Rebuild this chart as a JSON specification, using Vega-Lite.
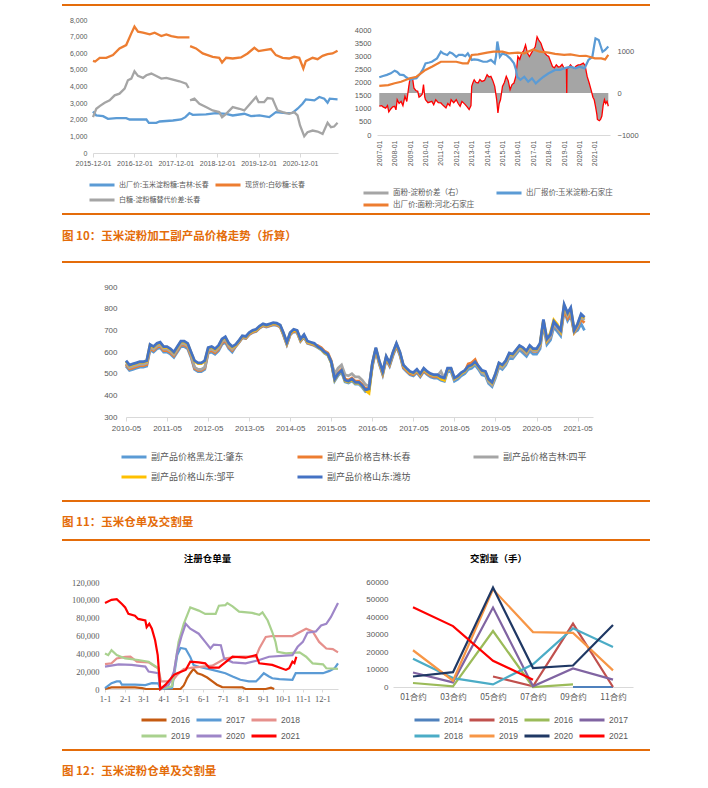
{
"$schema": "https://vega.github.io/schema/vega-lite/v6.json",
"background": "white",
"padding": {"left": 62, "top": 4, "right": 0, "bottom": 0},
"spacing": 0,
"bounds": "full",
"resolve": {"scale": {"color": "independent"}},
"vconcat": [
{"hconcat": [
{"width": 588, "height": 2, "view": {"fill": "#E46C0A", "stroke": null}, "data": {"values": []}, "mark": "point"},
{"width": 1, "height": 10, "data": {"values": []}, "mark": "point"}
], "spacing": 0, "bounds": "flush"},

{"hconcat": [
{"width": 31, "height": 199, "data": {"values": []}, "mark": "point"},
{
"width": 245, "height": 139,
"data": {"values": [
{"s":"出厂价:玉米淀粉糖:吉林:长春","g":1,"d":"2015-12-01","v":2500},
{"s":"出厂价:玉米淀粉糖:吉林:长春","g":1,"d":"2015-12-30","v":2258},
{"s":"出厂价:玉米淀粉糖:吉林:长春","g":1,"d":"2016-02-28","v":2218},
{"s":"出厂价:玉米淀粉糖:吉林:长春","g":1,"d":"2016-04-11","v":2056},
{"s":"出厂价:玉米淀粉糖:吉林:长春","g":1,"d":"2016-06-24","v":2097},
{"s":"出厂价:玉米淀粉糖:吉林:长春","g":1,"d":"2016-09-19","v":2097},
{"s":"出厂价:玉米淀粉糖:吉林:长春","g":1,"d":"2016-10-19","v":2016},
{"s":"出厂价:玉米淀粉糖:吉林:长春","g":1,"d":"2017-03-16","v":2016},
{"s":"出厂价:玉米淀粉糖:吉林:长春","g":1,"d":"2017-04-07","v":1815},
{"s":"出厂价:玉米淀粉糖:吉林:长春","g":1,"d":"2017-06-12","v":1815},
{"s":"出厂价:玉米淀粉糖:吉林:长春","g":1,"d":"2017-07-11","v":1895},
{"s":"出厂价:玉米淀粉糖:吉林:长春","g":1,"d":"2017-11-05","v":1956},
{"s":"出厂价:玉米淀粉糖:吉林:长春","g":1,"d":"2018-01-17","v":2016},
{"s":"出厂价:玉米淀粉糖:吉林:长春","g":1,"d":"2018-02-23","v":2157},
{"s":"出厂价:玉米淀粉糖:吉林:长春","g":1,"d":"2018-03-31","v":2400},
{"s":"出厂价:玉米淀粉糖:吉林:长春","g":1,"d":"2018-04-29","v":2298},
{"s":"出厂价:玉米淀粉糖:吉林:长春","g":1,"d":"2018-08-24","v":2319},
{"s":"出厂价:玉米淀粉糖:吉林:长春","g":1,"d":"2018-11-20","v":2400},
{"s":"出厂价:玉米淀粉糖:吉林:长春","g":1,"d":"2019-02-18","v":2359},
{"s":"出厂价:玉米淀粉糖:吉林:长春","g":1,"d":"2019-04-17","v":2258},
{"s":"出厂价:玉米淀粉糖:吉林:长春","g":1,"d":"2019-07-28","v":2359},
{"s":"出厂价:玉米淀粉糖:吉林:长春","g":1,"d":"2019-09-25","v":2218},
{"s":"出厂价:玉米淀粉糖:吉林:长春","g":1,"d":"2019-12-08","v":2258},
{"s":"出厂价:玉米淀粉糖:吉林:长春","g":1,"d":"2020-03-05","v":2157},
{"s":"出厂价:玉米淀粉糖:吉林:长春","g":1,"d":"2020-05-02","v":2460},
{"s":"出厂价:玉米淀粉糖:吉林:长春","g":1,"d":"2020-07-28","v":2400},
{"s":"出厂价:玉米淀粉糖:吉林:长春","g":1,"d":"2020-09-25","v":2419},
{"s":"出厂价:玉米淀粉糖:吉林:长春","g":1,"d":"2020-11-09","v":2661},
{"s":"出厂价:玉米淀粉糖:吉林:长春","g":1,"d":"2020-12-23","v":2964},
{"s":"出厂价:玉米淀粉糖:吉林:长春","g":1,"d":"2021-01-21","v":3226},
{"s":"出厂价:玉米淀粉糖:吉林:长春","g":1,"d":"2021-04-07","v":3165},
{"s":"出厂价:玉米淀粉糖:吉林:长春","g":1,"d":"2021-05-20","v":3367},
{"s":"出厂价:玉米淀粉糖:吉林:长春","g":1,"d":"2021-07-03","v":3266},
{"s":"出厂价:玉米淀粉糖:吉林:长春","g":1,"d":"2021-08-01","v":3024},
{"s":"出厂价:玉米淀粉糖:吉林:长春","g":1,"d":"2021-08-20","v":3266},
{"s":"出厂价:玉米淀粉糖:吉林:长春","g":1,"d":"2021-10-28","v":3226},
{"s":"现货价:白砂糖:长春","g":1,"d":"2015-12-01","v":5544},
{"s":"现货价:白砂糖:长春","g":1,"d":"2015-12-20","v":5500},
{"s":"现货价:白砂糖:长春","g":1,"d":"2016-01-29","v":5726},
{"s":"现货价:白砂糖:长春","g":1,"d":"2016-03-27","v":5726},
{"s":"现货价:白砂糖:长春","g":1,"d":"2016-05-25","v":5887},
{"s":"现货价:白砂糖:长春","g":1,"d":"2016-07-22","v":6290},
{"s":"现货价:白砂糖:长春","g":1,"d":"2016-09-19","v":6492},
{"s":"现货价:白砂糖:长春","g":1,"d":"2016-11-03","v":7197},
{"s":"现货价:白砂糖:长春","g":1,"d":"2016-12-01","v":7600},
{"s":"现货价:白砂糖:长春","g":1,"d":"2017-01-01","v":7298},
{"s":"现货价:白砂糖:长春","g":1,"d":"2017-02-14","v":7238},
{"s":"现货价:白砂糖:长春","g":1,"d":"2017-04-15","v":7137},
{"s":"现货价:白砂糖:长春","g":1,"d":"2017-05-28","v":7238},
{"s":"现货价:白砂糖:长春","g":1,"d":"2017-07-26","v":7036},
{"s":"现货价:白砂糖:长春","g":1,"d":"2017-09-08","v":7137},
{"s":"现货价:白砂糖:长春","g":1,"d":"2017-10-22","v":7036},
{"s":"现货价:白砂糖:长春","g":1,"d":"2017-12-19","v":6956},
{"s":"现货价:白砂糖:长春","g":1,"d":"2018-03-31","v":6956},
{"s":"现货价:白砂糖:长春","g":2,"d":"2018-04-06","v":6431},
{"s":"现货价:白砂糖:长春","g":2,"d":"2018-05-28","v":6290},
{"s":"现货价:白砂糖:长春","g":2,"d":"2018-07-26","v":5988},
{"s":"现货价:白砂糖:长春","g":2,"d":"2018-09-08","v":5887},
{"s":"现货价:白砂糖:长春","g":2,"d":"2018-10-22","v":5786},
{"s":"现货价:白砂糖:长春","g":2,"d":"2018-12-19","v":5726},
{"s":"现货价:白砂糖:长春","g":2,"d":"2019-01-13","v":5444},
{"s":"现货价:白砂糖:长春","g":2,"d":"2019-02-18","v":5726},
{"s":"现货价:白砂糖:长春","g":2,"d":"2019-04-17","v":5685},
{"s":"现货价:白砂糖:长春","g":2,"d":"2019-06-29","v":5746},
{"s":"现货价:白砂糖:长春","g":2,"d":"2019-08-26","v":5988},
{"s":"现货价:白砂糖:长春","g":2,"d":"2019-10-25","v":6331},
{"s":"现货价:白砂糖:长春","g":2,"d":"2019-12-01","v":6129},
{"s":"现货价:白砂糖:长春","g":2,"d":"2020-01-20","v":6190},
{"s":"现货价:白砂糖:长春","g":2,"d":"2020-03-19","v":6250},
{"s":"现货价:白砂糖:长春","g":2,"d":"2020-05-02","v":5887},
{"s":"现货价:白砂糖:长春","g":2,"d":"2020-06-30","v":5726},
{"s":"现货价:白砂糖:长春","g":2,"d":"2020-08-27","v":5685},
{"s":"现货价:白砂糖:长春","g":2,"d":"2020-10-10","v":5786},
{"s":"现货价:白砂糖:长春","g":2,"d":"2020-11-24","v":5726},
{"s":"现货价:白砂糖:长春","g":2,"d":"2020-12-30","v":5081},
{"s":"现货价:白砂糖:长春","g":2,"d":"2021-01-21","v":5524},
{"s":"现货价:白砂糖:长春","g":2,"d":"2021-03-22","v":5726},
{"s":"现货价:白砂糖:长春","g":2,"d":"2021-05-05","v":5645},
{"s":"现货价:白砂糖:长春","g":2,"d":"2021-06-18","v":5847},
{"s":"现货价:白砂糖:长春","g":2,"d":"2021-08-01","v":5948},
{"s":"现货价:白砂糖:长春","g":2,"d":"2021-09-14","v":5988},
{"s":"现货价:白砂糖:长春","g":2,"d":"2021-10-28","v":6149},
{"s":"白糖-淀粉糖替代价差:长春","g":1,"d":"2015-12-01","v":2157},
{"s":"白糖-淀粉糖替代价差:长春","g":1,"d":"2015-12-30","v":2661},
{"s":"白糖-淀粉糖替代价差:长春","g":1,"d":"2016-01-29","v":2823},
{"s":"白糖-淀粉糖替代价差:长春","g":1,"d":"2016-03-13","v":3024},
{"s":"白糖-淀粉糖替代价差:长春","g":1,"d":"2016-04-26","v":3165},
{"s":"白糖-淀粉糖替代价差:长春","g":1,"d":"2016-06-09","v":3468},
{"s":"白糖-淀粉糖替代价差:长春","g":1,"d":"2016-07-22","v":3569},
{"s":"白糖-淀粉糖替代价差:长春","g":1,"d":"2016-09-05","v":3871},
{"s":"白糖-淀粉糖替代价差:长春","g":1,"d":"2016-10-04","v":4375},
{"s":"白糖-淀粉糖替代价差:长春","g":1,"d":"2016-11-03","v":4476},
{"s":"白糖-淀粉糖替代价差:长春","g":1,"d":"2016-12-01","v":4919},
{"s":"白糖-淀粉糖替代价差:长春","g":1,"d":"2017-01-01","v":4637},
{"s":"白糖-淀粉糖替代价差:长春","g":1,"d":"2017-02-14","v":4516},
{"s":"白糖-淀粉糖替代价差:长春","g":1,"d":"2017-03-16","v":4677},
{"s":"白糖-淀粉糖替代价差:长春","g":1,"d":"2017-04-29","v":4778},
{"s":"白糖-淀粉糖替代价差:长春","g":1,"d":"2017-06-12","v":4637},
{"s":"白糖-淀粉糖替代价差:长春","g":1,"d":"2017-07-26","v":4476},
{"s":"白糖-淀粉糖替代价差:长春","g":1,"d":"2017-09-08","v":4516},
{"s":"白糖-淀粉糖替代价差:长春","g":1,"d":"2017-11-05","v":4415},
{"s":"白糖-淀粉糖替代价差:长春","g":1,"d":"2018-01-02","v":4315},
{"s":"白糖-淀粉糖替代价差:长春","g":1,"d":"2018-03-02","v":4173},
{"s":"白糖-淀粉糖替代价差:长春","g":1,"d":"2018-03-24","v":3911},
{"s":"白糖-淀粉糖替代价差:长春","g":2,"d":"2018-04-06","v":3165},
{"s":"白糖-淀粉糖替代价差:长春","g":2,"d":"2018-05-14","v":3266},
{"s":"白糖-淀粉糖替代价差:长春","g":2,"d":"2018-06-27","v":2964},
{"s":"白糖-淀粉糖替代价差:长春","g":2,"d":"2018-08-24","v":2762},
{"s":"白糖-淀粉糖替代价差:长春","g":2,"d":"2018-10-22","v":2560},
{"s":"白糖-淀粉糖替代价差:长春","g":2,"d":"2018-12-19","v":2460},
{"s":"白糖-淀粉糖替代价差:长春","g":2,"d":"2019-01-13","v":2157},
{"s":"白糖-淀粉糖替代价差:长春","g":2,"d":"2019-02-18","v":2359},
{"s":"白糖-淀粉糖替代价差:长春","g":2,"d":"2019-04-17","v":2762},
{"s":"白糖-淀粉糖替代价差:长春","g":2,"d":"2019-06-15","v":2661},
{"s":"白糖-淀粉糖替代价差:长春","g":2,"d":"2019-07-28","v":2560},
{"s":"白糖-淀粉糖替代价差:长春","g":2,"d":"2019-09-10","v":2903},
{"s":"白糖-淀粉糖替代价差:长春","g":2,"d":"2019-11-09","v":3367},
{"s":"白糖-淀粉糖替代价差:长春","g":2,"d":"2019-12-01","v":3065},
{"s":"白糖-淀粉糖替代价差:长春","g":2,"d":"2020-01-20","v":3065},
{"s":"白糖-淀粉糖替代价差:长春","g":2,"d":"2020-02-18","v":3306},
{"s":"白糖-淀粉糖替代价差:长春","g":2,"d":"2020-04-02","v":3266},
{"s":"白糖-淀粉糖替代价差:长春","g":2,"d":"2020-05-16","v":2560},
{"s":"白糖-淀粉糖替代价差:长春","g":2,"d":"2020-06-30","v":2460},
{"s":"白糖-淀粉糖替代价差:长春","g":2,"d":"2020-08-27","v":2359},
{"s":"白糖-淀粉糖替代价差:长春","g":2,"d":"2020-10-10","v":2460},
{"s":"白糖-淀粉糖替代价差:长春","g":2,"d":"2020-11-09","v":2258},
{"s":"白糖-淀粉糖替代价差:长春","g":2,"d":"2020-12-01","v":1653},
{"s":"白糖-淀粉糖替代价差:长春","g":2,"d":"2021-01-07","v":1008},
{"s":"白糖-淀粉糖替代价差:长春","g":2,"d":"2021-02-05","v":1250},
{"s":"白糖-淀粉糖替代价差:长春","g":2,"d":"2021-03-22","v":1351},
{"s":"白糖-淀粉糖替代价差:长春","g":2,"d":"2021-05-05","v":1290},
{"s":"白糖-淀粉糖替代价差:长春","g":2,"d":"2021-06-18","v":1149},
{"s":"白糖-淀粉糖替代价差:长春","g":2,"d":"2021-08-01","v":1815},
{"s":"白糖-淀粉糖替代价差:长春","g":2,"d":"2021-08-31","v":1552},
{"s":"白糖-淀粉糖替代价差:长春","g":2,"d":"2021-09-28","v":1593},
{"s":"白糖-淀粉糖替代价差:长春","g":2,"d":"2021-10-28","v":1815}
]},
"mark": {"type": "line", "strokeWidth": 2.3},
"encoding": {
"x": {"field": "d", "type": "temporal",
"scale": {"domain": [{"year": 2015, "month": 12, "date": 1}, {"year": 2021, "month": 11, "date": 1}]},
"axis": {"title": null, "format": "%Y-%m-%d", "labelAngle": 0, "labelFontSize": 7, "labelFlush": false, "labelOverlap": false, "grid": false, "domainColor": "#D9D9D9", "tickColor": "#D9D9D9", "tickSize": 4, "labelPadding": 2,
"values": [{"year": 2015, "month": 12, "date": 1}, {"year": 2016, "month": 12, "date": 1}, {"year": 2017, "month": 12, "date": 1}, {"year": 2018, "month": 12, "date": 1}, {"year": 2019, "month": 12, "date": 1}, {"year": 2020, "month": 12, "date": 1}]}},
"y": {"field": "v", "type": "quantitative", "scale": {"domain": [0, 8361], "nice": false},
"axis": {"title": null, "values": [0, 1000, 2000, 3000, 4000, 5000, 6000, 7000, 8000], "format": ",d", "domain": false, "ticks": false, "grid": false, "labelFontSize": 7, "labelPadding": 6}},
"color": {"field": "s", "type": "nominal",
"scale": {"domain": ["出厂价:玉米淀粉糖:吉林:长春", "现货价:白砂糖:长春", "白糖-淀粉糖替代价差:长春"], "range": ["#5B9BD5", "#ED7D31", "#A5A5A5"]},
"legend": {"title": null, "orient": "none", "direction": "horizontal", "legendX": -5, "legendY": 165, "columns": 2, "symbolType": "M-2.78,0H2.78", "symbolSize": 81, "symbolStrokeWidth": 3, "symbolOffset": 8, "labelOffset": 11, "labelFontSize": 7, "columnPadding": 0, "rowPadding": 3, "labelLimit": 300}},
"detail": {"field": "g"}
}
},
{"width": 39, "height": 1, "data": {"values": []}, "mark": "point"},
{
"width": 233, "height": 121,
"data": {"values": [
{"s":"面粉-淀粉价差（右）","d":"2007-01-01","v":-315},
{"s":"面粉-淀粉价差（右）","d":"2007-03-01","v":-300},
{"s":"面粉-淀粉价差（右）","d":"2007-04-01","v":-330},
{"s":"面粉-淀粉价差（右）","d":"2007-06-01","v":-360},
{"s":"面粉-淀粉价差（右）","d":"2007-07-15","v":-300},
{"s":"面粉-淀粉价差（右）","d":"2007-08-15","v":-450},
{"s":"面粉-淀粉价差（右）","d":"2007-10-01","v":-380},
{"s":"面粉-淀粉价差（右）","d":"2007-11-15","v":-330},
{"s":"面粉-淀粉价差（右）","d":"2008-01-01","v":-316},
{"s":"面粉-淀粉价差（右）","d":"2008-02-01","v":-400},
{"s":"面粉-淀粉价差（右）","d":"2008-03-01","v":-160},
{"s":"面粉-淀粉价差（右）","d":"2008-04-15","v":-250},
{"s":"面粉-淀粉价差（右）","d":"2008-06-01","v":-200},
{"s":"面粉-淀粉价差（右）","d":"2008-07-15","v":-300},
{"s":"面粉-淀粉价差（右）","d":"2008-09-01","v":-80},
{"s":"面粉-淀粉价差（右）","d":"2008-10-15","v":-200},
{"s":"面粉-淀粉价差（右）","d":"2008-12-01","v":160},
{"s":"面粉-淀粉价差（右）","d":"2009-01-01","v":355},
{"s":"面粉-淀粉价差（右）","d":"2009-03-01","v":350},
{"s":"面粉-淀粉价差（右）","d":"2009-04-01","v":120},
{"s":"面粉-淀粉价差（右）","d":"2009-05-15","v":60},
{"s":"面粉-淀粉价差（右）","d":"2009-07-01","v":40},
{"s":"面粉-淀粉价差（右）","d":"2009-08-01","v":-100},
{"s":"面粉-淀粉价差（右）","d":"2009-09-01","v":-80},
{"s":"面粉-淀粉价差（右）","d":"2009-10-15","v":-30},
{"s":"面粉-淀粉价差（右）","d":"2009-11-15","v":200},
{"s":"面粉-淀粉价差（右）","d":"2009-12-15","v":-100},
{"s":"面粉-淀粉价差（右）","d":"2010-01-01","v":-160},
{"s":"面粉-淀粉价差（右）","d":"2010-03-01","v":-230},
{"s":"面粉-淀粉价差（右）","d":"2010-06-01","v":-200},
{"s":"面粉-淀粉价差（右）","d":"2010-07-15","v":-280},
{"s":"面粉-淀粉价差（右）","d":"2010-09-01","v":-160},
{"s":"面粉-淀粉价差（右）","d":"2010-11-01","v":-230},
{"s":"面粉-淀粉价差（右）","d":"2011-01-01","v":-237},
{"s":"面粉-淀粉价差（右）","d":"2011-03-01","v":-300},
{"s":"面粉-淀粉价差（右）","d":"2011-05-01","v":-355},
{"s":"面粉-淀粉价差（右）","d":"2011-06-15","v":-250},
{"s":"面粉-淀粉价差（右）","d":"2011-08-01","v":-300},
{"s":"面粉-淀粉价差（右）","d":"2011-09-01","v":-160},
{"s":"面粉-淀粉价差（右）","d":"2011-11-01","v":-230},
{"s":"面粉-淀粉价差（右）","d":"2012-01-01","v":-160},
{"s":"面粉-淀粉价差（右）","d":"2012-02-15","v":-250},
{"s":"面粉-淀粉价差（右）","d":"2012-04-01","v":-316},
{"s":"面粉-淀粉价差（右）","d":"2012-05-15","v":-200},
{"s":"面粉-淀粉价差（右）","d":"2012-08-01","v":-276},
{"s":"面粉-淀粉价差（右）","d":"2012-09-15","v":-330},
{"s":"面粉-淀粉价差（右）","d":"2012-11-01","v":-395},
{"s":"面粉-淀粉价差（右）","d":"2012-12-15","v":-300},
{"s":"面粉-淀粉价差（右）","d":"2013-01-01","v":158},
{"s":"面粉-淀粉价差（右）","d":"2013-02-01","v":250},
{"s":"面粉-淀粉价差（右）","d":"2013-03-01","v":316},
{"s":"面粉-淀粉价差（右）","d":"2013-04-15","v":250},
{"s":"面粉-淀粉价差（右）","d":"2013-06-01","v":237},
{"s":"面粉-淀粉价差（右）","d":"2013-07-15","v":320},
{"s":"面粉-淀粉价差（右）","d":"2013-09-01","v":276},
{"s":"面粉-淀粉价差（右）","d":"2013-11-01","v":300},
{"s":"面粉-淀粉价差（右）","d":"2014-01-01","v":434},
{"s":"面粉-淀粉价差（右）","d":"2014-02-15","v":380},
{"s":"面粉-淀粉价差（右）","d":"2014-04-01","v":395},
{"s":"面粉-淀粉价差（右）","d":"2014-05-15","v":300},
{"s":"面粉-淀粉价差（右）","d":"2014-07-01","v":158},
{"s":"面粉-淀粉价差（右）","d":"2014-08-15","v":-150},
{"s":"面粉-淀粉价差（右）","d":"2014-09-15","v":-474},
{"s":"面粉-淀粉价差（右）","d":"2014-10-15","v":-250},
{"s":"面粉-淀粉价差（右）","d":"2014-11-15","v":-160},
{"s":"面粉-淀粉价差（右）","d":"2015-01-01","v":158},
{"s":"面粉-淀粉价差（右）","d":"2015-02-15","v":250},
{"s":"面粉-淀粉价差（右）","d":"2015-04-01","v":395},
{"s":"面粉-淀粉价差（右）","d":"2015-05-15","v":300},
{"s":"面粉-淀粉价差（右）","d":"2015-07-01","v":80},
{"s":"面粉-淀粉价差（右）","d":"2015-08-15","v":200},
{"s":"面粉-淀粉价差（右）","d":"2015-10-01","v":237},
{"s":"面粉-淀粉价差（右）","d":"2015-11-15","v":400},
{"s":"面粉-淀粉价差（右）","d":"2016-01-01","v":870},
{"s":"面粉-淀粉价差（右）","d":"2016-02-15","v":800},
{"s":"面粉-淀粉价差（右）","d":"2016-04-01","v":950},
{"s":"面粉-淀粉价差（右）","d":"2016-05-15","v":1000},
{"s":"面粉-淀粉价差（右）","d":"2016-07-01","v":1145},
{"s":"面粉-淀粉价差（右）","d":"2016-08-15","v":950},
{"s":"面粉-淀粉价差（右）","d":"2016-10-01","v":870},
{"s":"面粉-淀粉价差（右）","d":"2016-11-15","v":950},
{"s":"面粉-淀粉价差（右）","d":"2017-01-01","v":1030},
{"s":"面粉-淀粉价差（右）","d":"2017-02-15","v":1100},
{"s":"面粉-淀粉价差（右）","d":"2017-04-01","v":1340},
{"s":"面粉-淀粉价差（右）","d":"2017-05-15","v":1250},
{"s":"面粉-淀粉价差（右）","d":"2017-07-01","v":1185},
{"s":"面粉-淀粉价差（右）","d":"2017-08-15","v":1050},
{"s":"面粉-淀粉价差（右）","d":"2017-10-01","v":950},
{"s":"面粉-淀粉价差（右）","d":"2017-11-15","v":900},
{"s":"面粉-淀粉价差（右）","d":"2018-01-01","v":870},
{"s":"面粉-淀粉价差（右）","d":"2018-02-15","v":750},
{"s":"面粉-淀粉价差（右）","d":"2018-04-01","v":630},
{"s":"面粉-淀粉价差（右）","d":"2018-05-15","v":600},
{"s":"面粉-淀粉价差（右）","d":"2018-07-01","v":670},
{"s":"面粉-淀粉价差（右）","d":"2018-08-15","v":620},
{"s":"面粉-淀粉价差（右）","d":"2018-10-01","v":630},
{"s":"面粉-淀粉价差（右）","d":"2018-11-15","v":680},
{"s":"面粉-淀粉价差（右）","d":"2019-01-01","v":590},
{"s":"面粉-淀粉价差（右）","d":"2019-02-25","v":590},
{"s":"面粉-淀粉价差（右）","d":"2019-03-05","v":0},
{"s":"面粉-淀粉价差（右）","d":"2019-03-12","v":590},
{"s":"面粉-淀粉价差（右）","d":"2019-04-15","v":600},
{"s":"面粉-淀粉价差（右）","d":"2019-06-01","v":670},
{"s":"面粉-淀粉价差（右）","d":"2019-07-15","v":620},
{"s":"面粉-淀粉价差（右）","d":"2019-09-01","v":590},
{"s":"面粉-淀粉价差（右）","d":"2019-10-15","v":640},
{"s":"面粉-淀粉价差（右）","d":"2019-12-01","v":670},
{"s":"面粉-淀粉价差（右）","d":"2020-01-15","v":670},
{"s":"面粉-淀粉价差（右）","d":"2020-04-01","v":710},
{"s":"面粉-淀粉价差（右）","d":"2020-05-15","v":650},
{"s":"面粉-淀粉价差（右）","d":"2020-07-01","v":395},
{"s":"面粉-淀粉价差（右）","d":"2020-08-15","v":250},
{"s":"面粉-淀粉价差（右）","d":"2020-10-01","v":80},
{"s":"面粉-淀粉价差（右）","d":"2020-11-15","v":-100},
{"s":"面粉-淀粉价差（右）","d":"2020-12-15","v":-160},
{"s":"面粉-淀粉价差（右）","d":"2021-01-15","v":-316},
{"s":"面粉-淀粉价差（右）","d":"2021-02-15","v":-500},
{"s":"面粉-淀粉价差（右）","d":"2021-03-01","v":-630},
{"s":"面粉-淀粉价差（右）","d":"2021-04-15","v":-660},
{"s":"面粉-淀粉价差（右）","d":"2021-05-15","v":-630},
{"s":"面粉-淀粉价差（右）","d":"2021-06-15","v":-550},
{"s":"面粉-淀粉价差（右）","d":"2021-07-15","v":-300},
{"s":"面粉-淀粉价差（右）","d":"2021-08-15","v":-160},
{"s":"面粉-淀粉价差（右）","d":"2021-09-15","v":-250},
{"s":"面粉-淀粉价差（右）","d":"2021-10-15","v":-200},
{"s":"面粉-淀粉价差（右）","d":"2021-11-15","v":-316},
{"s":"出厂报价:玉米淀粉:石家庄","d":"2007-01-01","v":2200},
{"s":"出厂报价:玉米淀粉:石家庄","d":"2007-04-01","v":2250},
{"s":"出厂报价:玉米淀粉:石家庄","d":"2007-07-01","v":2290},
{"s":"出厂报价:玉米淀粉:石家庄","d":"2007-10-01","v":2350},
{"s":"出厂报价:玉米淀粉:石家庄","d":"2008-01-01","v":2450},
{"s":"出厂报价:玉米淀粉:石家庄","d":"2008-03-01","v":2400},
{"s":"出厂报价:玉米淀粉:石家庄","d":"2008-05-01","v":2300},
{"s":"出厂报价:玉米淀粉:石家庄","d":"2008-08-01","v":2280},
{"s":"出厂报价:玉米淀粉:石家庄","d":"2008-10-01","v":2200},
{"s":"出厂报价:玉米淀粉:石家庄","d":"2009-01-01","v":2100},
{"s":"出厂报价:玉米淀粉:石家庄","d":"2009-04-01","v":2150},
{"s":"出厂报价:玉米淀粉:石家庄","d":"2009-06-01","v":2160},
{"s":"出厂报价:玉米淀粉:石家庄","d":"2009-09-01","v":2350},
{"s":"出厂报价:玉米淀粉:石家庄","d":"2009-11-01","v":2500},
{"s":"出厂报价:玉米淀粉:石家庄","d":"2010-01-01","v":2730},
{"s":"出厂报价:玉米淀粉:石家庄","d":"2010-04-01","v":2760},
{"s":"出厂报价:玉米淀粉:石家庄","d":"2010-06-01","v":2790},
{"s":"出厂报价:玉米淀粉:石家庄","d":"2010-10-01","v":2920},
{"s":"出厂报价:玉米淀粉:石家庄","d":"2011-01-01","v":3175},
{"s":"出厂报价:玉米淀粉:石家庄","d":"2011-03-01","v":3100},
{"s":"出厂报价:玉米淀粉:石家庄","d":"2011-06-01","v":3050},
{"s":"出厂报价:玉米淀粉:石家庄","d":"2011-08-01","v":3150},
{"s":"出厂报价:玉米淀粉:石家庄","d":"2011-10-01","v":3110},
{"s":"出厂报价:玉米淀粉:石家庄","d":"2012-01-01","v":2980},
{"s":"出厂报价:玉米淀粉:石家庄","d":"2012-03-01","v":3050},
{"s":"出厂报价:玉米淀粉:石家庄","d":"2012-06-01","v":3050},
{"s":"出厂报价:玉米淀粉:石家庄","d":"2012-08-01","v":3000},
{"s":"出厂报价:玉米淀粉:石家庄","d":"2012-10-01","v":3110},
{"s":"出厂报价:玉米淀粉:石家庄","d":"2013-01-01","v":2860},
{"s":"出厂报价:玉米淀粉:石家庄","d":"2013-03-01","v":2880},
{"s":"出厂报价:玉米淀粉:石家庄","d":"2013-06-01","v":2860},
{"s":"出厂报价:玉米淀粉:石家庄","d":"2013-10-01","v":2790},
{"s":"出厂报价:玉米淀粉:石家庄","d":"2014-01-01","v":2790},
{"s":"出厂报价:玉米淀粉:石家庄","d":"2014-04-01","v":2860},
{"s":"出厂报价:玉米淀粉:石家庄","d":"2014-07-01","v":2730},
{"s":"出厂报价:玉米淀粉:石家庄","d":"2014-08-01","v":3000},
{"s":"出厂报价:玉米淀粉:石家庄","d":"2014-09-01","v":3560},
{"s":"出厂报价:玉米淀粉:石家庄","d":"2014-10-01","v":3300},
{"s":"出厂报价:玉米淀粉:石家庄","d":"2014-11-01","v":2980},
{"s":"出厂报价:玉米淀粉:石家庄","d":"2015-01-01","v":3110},
{"s":"出厂报价:玉米淀粉:石家庄","d":"2015-04-01","v":3050},
{"s":"出厂报价:玉米淀粉:石家庄","d":"2015-07-01","v":2920},
{"s":"出厂报价:玉米淀粉:石家庄","d":"2015-10-01","v":2730},
{"s":"出厂报价:玉米淀粉:石家庄","d":"2015-11-15","v":2500},
{"s":"出厂报价:玉米淀粉:石家庄","d":"2015-12-15","v":2220},
{"s":"出厂报价:玉米淀粉:石家庄","d":"2016-03-01","v":2100},
{"s":"出厂报价:玉米淀粉:石家庄","d":"2016-06-01","v":2220},
{"s":"出厂报价:玉米淀粉:石家庄","d":"2016-09-01","v":2030},
{"s":"出厂报价:玉米淀粉:石家庄","d":"2016-12-01","v":2160},
{"s":"出厂报价:玉米淀粉:石家庄","d":"2017-03-01","v":1970},
{"s":"出厂报价:玉米淀粉:石家庄","d":"2017-06-01","v":2100},
{"s":"出厂报价:玉米淀粉:石家庄","d":"2017-09-01","v":2220},
{"s":"出厂报价:玉米淀粉:石家庄","d":"2018-01-01","v":2350},
{"s":"出厂报价:玉米淀粉:石家庄","d":"2018-06-01","v":2480},
{"s":"出厂报价:玉米淀粉:石家庄","d":"2018-10-01","v":2480},
{"s":"出厂报价:玉米淀粉:石家庄","d":"2019-01-01","v":2540},
{"s":"出厂报价:玉米淀粉:石家庄","d":"2019-06-01","v":2600},
{"s":"出厂报价:玉米淀粉:石家庄","d":"2019-10-01","v":2540},
{"s":"出厂报价:玉米淀粉:石家庄","d":"2020-01-01","v":2600},
{"s":"出厂报价:玉米淀粉:石家庄","d":"2020-05-01","v":2540},
{"s":"出厂报价:玉米淀粉:石家庄","d":"2020-08-01","v":2860},
{"s":"出厂报价:玉米淀粉:石家庄","d":"2020-11-01","v":2980},
{"s":"出厂报价:玉米淀粉:石家庄","d":"2020-12-15","v":3400},
{"s":"出厂报价:玉米淀粉:石家庄","d":"2021-01-15","v":3680},
{"s":"出厂报价:玉米淀粉:石家庄","d":"2021-04-01","v":3620},
{"s":"出厂报价:玉米淀粉:石家庄","d":"2021-07-01","v":3170},
{"s":"出厂报价:玉米淀粉:石家庄","d":"2021-09-01","v":3240},
{"s":"出厂报价:玉米淀粉:石家庄","d":"2021-11-15","v":3370},
{"s":"出厂价:面粉:河北:石家庄","d":"2007-01-01","v":1870},
{"s":"出厂价:面粉:河北:石家庄","d":"2007-08-01","v":1900},
{"s":"出厂价:面粉:河北:石家庄","d":"2008-01-01","v":1970},
{"s":"出厂价:面粉:河北:石家庄","d":"2008-06-01","v":2030},
{"s":"出厂价:面粉:河北:石家庄","d":"2009-01-01","v":2160},
{"s":"出厂价:面粉:河北:石家庄","d":"2009-06-01","v":2220},
{"s":"出厂价:面粉:河北:石家庄","d":"2010-01-01","v":2480},
{"s":"出厂价:面粉:河北:石家庄","d":"2010-06-01","v":2600},
{"s":"出厂价:面粉:河北:石家庄","d":"2011-01-01","v":2790},
{"s":"出厂价:面粉:河北:石家庄","d":"2011-06-01","v":2790},
{"s":"出厂价:面粉:河北:石家庄","d":"2012-01-01","v":2790},
{"s":"出厂价:面粉:河北:石家庄","d":"2012-06-01","v":2730},
{"s":"出厂价:面粉:河北:石家庄","d":"2012-10-01","v":2730},
{"s":"出厂价:面粉:河北:石家庄","d":"2013-01-01","v":3050},
{"s":"出厂价:面粉:河北:石家庄","d":"2013-06-01","v":3070},
{"s":"出厂价:面粉:河北:石家庄","d":"2014-01-01","v":3140},
{"s":"出厂价:面粉:河北:石家庄","d":"2014-06-01","v":3175},
{"s":"出厂价:面粉:河北:石家庄","d":"2015-01-01","v":3175},
{"s":"出厂价:面粉:河北:石家庄","d":"2015-06-01","v":3110},
{"s":"出厂价:面粉:河北:石家庄","d":"2016-01-01","v":3140},
{"s":"出厂价:面粉:河北:石家庄","d":"2016-06-01","v":3110},
{"s":"出厂价:面粉:河北:石家庄","d":"2017-01-01","v":3260},
{"s":"出厂价:面粉:河北:石家庄","d":"2017-06-01","v":3175},
{"s":"出厂价:面粉:河北:石家庄","d":"2018-01-01","v":3140},
{"s":"出厂价:面粉:河北:石家庄","d":"2018-06-01","v":3090},
{"s":"出厂价:面粉:河北:石家庄","d":"2019-01-01","v":3050},
{"s":"出厂价:面粉:河北:石家庄","d":"2019-06-01","v":3070},
{"s":"出厂价:面粉:河北:石家庄","d":"2020-01-01","v":3010},
{"s":"出厂价:面粉:河北:石家庄","d":"2020-06-01","v":3020},
{"s":"出厂价:面粉:河北:石家庄","d":"2021-01-01","v":2920},
{"s":"出厂价:面粉:河北:石家庄","d":"2021-06-01","v":2920},
{"s":"出厂价:面粉:河北:石家庄","d":"2021-09-01","v":2880},
{"s":"出厂价:面粉:河北:石家庄","d":"2021-11-15","v":3050}
]},
"encoding": {
"x": {"field": "d", "type": "temporal",
"scale": {"domain": [{"year": 2006, "month": 11, "date": 8}, {"year": 2021, "month": 12, "date": 25}]},
"axis": {"title": null, "format": "%Y-%m", "labelAngle": 270, "labelFontSize": 7, "labelFlush": false, "labelOverlap": false, "grid": false, "ticks": false, "domainColor": "#D9D9D9", "labelPadding": 5,
"values": [{"year": 2007, "month": 1, "date": 1}, {"year": 2008, "month": 1, "date": 1}, {"year": 2009, "month": 1, "date": 1}, {"year": 2010, "month": 1, "date": 1}, {"year": 2011, "month": 1, "date": 1}, {"year": 2012, "month": 1, "date": 1}, {"year": 2013, "month": 1, "date": 1}, {"year": 2014, "month": 1, "date": 1}, {"year": 2015, "month": 1, "date": 1}, {"year": 2016, "month": 1, "date": 1}, {"year": 2017, "month": 1, "date": 1}, {"year": 2018, "month": 1, "date": 1}, {"year": 2019, "month": 1, "date": 1}, {"year": 2020, "month": 1, "date": 1}, {"year": 2021, "month": 1, "date": 1}]}}
},
"layer": [
{"layer": [
{"transform": [{"filter": "datum.s === '面粉-淀粉价差（右）'"}],
"mark": {"type": "area", "opacity": 1},
"encoding": {
"y": {"field": "v", "type": "quantitative", "scale": {"domain": [-1000, 1881], "nice": false},
"axis": {"title": null, "orient": "right", "values": [-1000, -500, 0, 500, 1000, 1500], "format": "d", "domain": false, "ticks": false, "grid": false, "labelFontSize": 7.5, "labelPadding": 7}},
"y2": {"datum": 0},
"color": {"field": "s", "type": "nominal",
"scale": {"domain": ["面粉-淀粉价差（右）", "出厂报价:玉米淀粉:石家庄", "出厂价:面粉:河北:石家庄"], "range": ["#A5A5A5", "#5B9BD5", "#ED7D31"]},
"legend": {"title": null, "orient": "none", "direction": "horizontal", "legendX": -15, "legendY": 173, "columns": 2, "symbolType": "M-2.78,0H2.78", "symbolSize": 81, "symbolStrokeWidth": 3, "symbolOffset": 8, "labelOffset": 11, "labelFontSize": 7.5, "columnPadding": 15, "rowPadding": 0, "labelLimit": 300,
"encode": {"symbols": {"update": {
"shape": [{"test": "datum.value === '面粉-淀粉价差（右）'", "value": "M-2.6,-0.75H2.6V0.75H-2.6Z"}, {"value": "M-2.78,0H2.78"}],
"fill": [{"test": "datum.value === '面粉-淀粉价差（右）'", "value": "#A5A5A5"}, {"value": "transparent"}],
"stroke": [{"test": "datum.value === '面粉-淀粉价差（右）'", "value": "#FF0000"}, {"test": "datum.value === '出厂报价:玉米淀粉:石家庄'", "value": "#5B9BD5"}, {"value": "#ED7D31"}],
"strokeWidth": [{"test": "datum.value === '面粉-淀粉价差（右）'", "value": 1.5}, {"value": 3}],
"opacity": {"value": 1}}}}}}
}},
{"transform": [{"filter": "datum.s === '面粉-淀粉价差（右）'"}],
"mark": {"type": "line", "color": "#FF0000", "strokeWidth": 1.3},
"encoding": {"y": {"field": "v", "type": "quantitative"}}},
{"data": {"values": [{}]}, "mark": {"type": "rule", "color": "#FF0000", "strokeWidth": 1}, "encoding": {"y": {"datum": 0}}}
]},
{"transform": [{"filter": "datum.s !== '面粉-淀粉价差（右）'"}],
"mark": {"type": "line", "strokeWidth": 2.2},
"encoding": {
"y": {"field": "v", "type": "quantitative", "scale": {"domain": [0, 4610], "nice": false},
"axis": {"title": null, "orient": "left", "values": [0, 500, 1000, 1500, 2000, 2500, 3000, 3500, 4000], "format": "d", "domain": false, "ticks": false, "grid": false, "labelFontSize": 7.5, "labelPadding": 6}},
"color": {"field": "s", "type": "nominal"}
}}
],
"resolve": {"scale": {"y": "independent"}}
}
], "spacing": 0, "bounds": "flush", "resolve": {"scale": {"color": "independent"}}},

{"hconcat": [
{"width": 588, "height": 2, "view": {"fill": "#E46C0A", "stroke": null}, "data": {"values": []}, "mark": "point",
"title": {"text": "图 10：玉米淀粉加工副产品价格走势（折算）", "orient": "bottom", "anchor": "start", "offset": 16, "font": "Noto Sans CJK SC", "fontSize": 11.5, "fontWeight": "bold", "color": "#E46C0A"}},
{"width": 1, "height": 48, "data": {"values": []}, "mark": "point"}
], "spacing": 0, "bounds": "flush"},

{"hconcat": [
{"width": 588, "height": 2, "view": {"fill": "#E46C0A", "stroke": null}, "data": {"values": []}, "mark": "point"},
{"width": 1, "height": 20, "data": {"values": []}, "mark": "point"}
], "spacing": 0, "bounds": "flush"},

{"hconcat": [
{"width": 64, "height": 219, "data": {"values": []}, "mark": "point"},
{
"width": 467, "height": 136,
"data": {"values": [
{"s":"黑龙江:肇东","d":"2010-05","v":535},{"s":"黑龙江:肇东","d":"2010-06","v":515},{"s":"黑龙江:肇东","d":"2010-07","v":520},{"s":"黑龙江:肇东","d":"2010-08","v":525},{"s":"黑龙江:肇东","d":"2010-09","v":530},{"s":"黑龙江:肇东","d":"2010-10","v":530},{"s":"黑龙江:肇东","d":"2010-11","v":535},{"s":"黑龙江:肇东","d":"2010-12","v":610},
{"s":"黑龙江:肇东","d":"2011-01","v":600},{"s":"黑龙江:肇东","d":"2011-02","v":615},{"s":"黑龙江:肇东","d":"2011-03","v":620},{"s":"黑龙江:肇东","d":"2011-04","v":600},{"s":"黑龙江:肇东","d":"2011-05","v":600},{"s":"黑龙江:肇东","d":"2011-06","v":590},{"s":"黑龙江:肇东","d":"2011-07","v":575},{"s":"黑龙江:肇东","d":"2011-08","v":600},{"s":"黑龙江:肇东","d":"2011-09","v":625},{"s":"黑龙江:肇东","d":"2011-10","v":625},{"s":"黑龙江:肇东","d":"2011-11","v":615},{"s":"黑龙江:肇东","d":"2011-12","v":575},
{"s":"黑龙江:肇东","d":"2012-01","v":520},{"s":"黑龙江:肇东","d":"2012-02","v":510},{"s":"黑龙江:肇东","d":"2012-03","v":510},{"s":"黑龙江:肇东","d":"2012-04","v":520},{"s":"黑龙江:肇东","d":"2012-05","v":595},{"s":"黑龙江:肇东","d":"2012-06","v":600},{"s":"黑龙江:肇东","d":"2012-07","v":590},{"s":"黑龙江:肇东","d":"2012-08","v":605},{"s":"黑龙江:肇东","d":"2012-09","v":635},{"s":"黑龙江:肇东","d":"2012-10","v":645},{"s":"黑龙江:肇东","d":"2012-11","v":615},{"s":"黑龙江:肇东","d":"2012-12","v":600},
{"s":"黑龙江:肇东","d":"2013-01","v":625},{"s":"黑龙江:肇东","d":"2013-02","v":645},{"s":"黑龙江:肇东","d":"2013-03","v":665},{"s":"黑龙江:肇东","d":"2013-04","v":662},{"s":"黑龙江:肇东","d":"2013-05","v":680},{"s":"黑龙江:肇东","d":"2013-06","v":690},{"s":"黑龙江:肇东","d":"2013-07","v":695},{"s":"黑龙江:肇东","d":"2013-08","v":710},{"s":"黑龙江:肇东","d":"2013-09","v":720},{"s":"黑龙江:肇东","d":"2013-10","v":715},{"s":"黑龙江:肇东","d":"2013-11","v":720},{"s":"黑龙江:肇东","d":"2013-12","v":725},
{"s":"黑龙江:肇东","d":"2014-01","v":723},{"s":"黑龙江:肇东","d":"2014-02","v":715},{"s":"黑龙江:肇东","d":"2014-03","v":680},{"s":"黑龙江:肇东","d":"2014-04","v":635},{"s":"黑龙江:肇东","d":"2014-05","v":680},{"s":"黑龙江:肇东","d":"2014-06","v":695},{"s":"黑龙江:肇东","d":"2014-07","v":690},{"s":"黑龙江:肇东","d":"2014-08","v":650},{"s":"黑龙江:肇东","d":"2014-09","v":670},{"s":"黑龙江:肇东","d":"2014-10","v":640},{"s":"黑龙江:肇东","d":"2014-11","v":635},{"s":"黑龙江:肇东","d":"2014-12","v":630},
{"s":"黑龙江:肇东","d":"2015-01","v":620},{"s":"黑龙江:肇东","d":"2015-02","v":610},{"s":"黑龙江:肇东","d":"2015-03","v":595},{"s":"黑龙江:肇东","d":"2015-04","v":585},{"s":"黑龙江:肇东","d":"2015-05","v":550},{"s":"黑龙江:肇东","d":"2015-06","v":467},{"s":"黑龙江:肇东","d":"2015-07","v":492},{"s":"黑龙江:肇东","d":"2015-08","v":507},{"s":"黑龙江:肇东","d":"2015-09","v":462},{"s":"黑龙江:肇东","d":"2015-10","v":457},{"s":"黑龙江:肇东","d":"2015-11","v":467},{"s":"黑龙江:肇东","d":"2015-12","v":452},
{"s":"黑龙江:肇东","d":"2016-01","v":452},{"s":"黑龙江:肇东","d":"2016-02","v":437},{"s":"黑龙江:肇东","d":"2016-03","v":417},{"s":"黑龙江:肇东","d":"2016-04","v":422},{"s":"黑龙江:肇东","d":"2016-05","v":535},{"s":"黑龙江:肇东","d":"2016-06","v":605},{"s":"黑龙江:肇东","d":"2016-07","v":545},{"s":"黑龙江:肇东","d":"2016-08","v":495},{"s":"黑龙江:肇东","d":"2016-09","v":565},{"s":"黑龙江:肇东","d":"2016-10","v":535},{"s":"黑龙江:肇东","d":"2016-11","v":585},{"s":"黑龙江:肇东","d":"2016-12","v":625},
{"s":"黑龙江:肇东","d":"2017-01","v":585},{"s":"黑龙江:肇东","d":"2017-02","v":525},{"s":"黑龙江:肇东","d":"2017-03","v":510},{"s":"黑龙江:肇东","d":"2017-04","v":495},{"s":"黑龙江:肇东","d":"2017-05","v":490},{"s":"黑龙江:肇东","d":"2017-06","v":505},{"s":"黑龙江:肇东","d":"2017-07","v":485},{"s":"黑龙江:肇东","d":"2017-08","v":510},{"s":"黑龙江:肇东","d":"2017-09","v":495},{"s":"黑龙江:肇东","d":"2017-10","v":485},{"s":"黑龙江:肇东","d":"2017-11","v":480},{"s":"黑龙江:肇东","d":"2017-12","v":480},
{"s":"黑龙江:肇东","d":"2018-01","v":470},{"s":"黑龙江:肇东","d":"2018-02","v":465},{"s":"黑龙江:肇东","d":"2018-03","v":510},{"s":"黑龙江:肇东","d":"2018-04","v":510},{"s":"黑龙江:肇东","d":"2018-05","v":465},{"s":"黑龙江:肇东","d":"2018-06","v":475},{"s":"黑龙江:肇东","d":"2018-07","v":490},{"s":"黑龙江:肇东","d":"2018-08","v":500},{"s":"黑龙江:肇东","d":"2018-09","v":520},{"s":"黑龙江:肇东","d":"2018-10","v":525},{"s":"黑龙江:肇东","d":"2018-11","v":540},{"s":"黑龙江:肇东","d":"2018-12","v":520},
{"s":"黑龙江:肇东","d":"2019-01","v":495},{"s":"黑龙江:肇东","d":"2019-02","v":490},{"s":"黑龙江:肇东","d":"2019-03","v":455},{"s":"黑龙江:肇东","d":"2019-04","v":440},{"s":"黑龙江:肇东","d":"2019-05","v":480},{"s":"黑龙江:肇东","d":"2019-06","v":530},{"s":"黑龙江:肇东","d":"2019-07","v":520},{"s":"黑龙江:肇东","d":"2019-08","v":540},{"s":"黑龙江:肇东","d":"2019-09","v":575},{"s":"黑龙江:肇东","d":"2019-10","v":570},{"s":"黑龙江:肇东","d":"2019-11","v":590},{"s":"黑龙江:肇东","d":"2019-12","v":610},
{"s":"黑龙江:肇东","d":"2020-01","v":595},{"s":"黑龙江:肇东","d":"2020-02","v":580},{"s":"黑龙江:肇东","d":"2020-03","v":605},{"s":"黑龙江:肇东","d":"2020-04","v":590},{"s":"黑龙江:肇东","d":"2020-05","v":590},{"s":"黑龙江:肇东","d":"2020-06","v":615},{"s":"黑龙江:肇东","d":"2020-07","v":725},{"s":"黑龙江:肇东","d":"2020-08","v":635},{"s":"黑龙江:肇东","d":"2020-09","v":655},{"s":"黑龙江:肇东","d":"2020-10","v":715},{"s":"黑龙江:肇东","d":"2020-11","v":695},{"s":"黑龙江:肇东","d":"2020-12","v":675},
{"s":"黑龙江:肇东","d":"2021-01","v":790},{"s":"黑龙江:肇东","d":"2021-02","v":745},{"s":"黑龙江:肇东","d":"2021-03","v":770},{"s":"黑龙江:肇东","d":"2021-04","v":690},{"s":"黑龙江:肇东","d":"2021-05","v":700},{"s":"黑龙江:肇东","d":"2021-06","v":730},{"s":"黑龙江:肇东","d":"2021-07","v":700},
{"s":"吉林:长春","d":"2010-05","v":542},{"s":"吉林:长春","d":"2010-06","v":522},{"s":"吉林:长春","d":"2010-07","v":527},{"s":"吉林:长春","d":"2010-08","v":532},{"s":"吉林:长春","d":"2010-09","v":537},{"s":"吉林:长春","d":"2010-10","v":537},{"s":"吉林:长春","d":"2010-11","v":542},{"s":"吉林:长春","d":"2010-12","v":617},
{"s":"吉林:长春","d":"2011-01","v":607},{"s":"吉林:长春","d":"2011-02","v":622},{"s":"吉林:长春","d":"2011-03","v":627},{"s":"吉林:长春","d":"2011-04","v":607},{"s":"吉林:长春","d":"2011-05","v":607},{"s":"吉林:长春","d":"2011-06","v":597},{"s":"吉林:长春","d":"2011-07","v":582},{"s":"吉林:长春","d":"2011-08","v":607},{"s":"吉林:长春","d":"2011-09","v":632},{"s":"吉林:长春","d":"2011-10","v":632},{"s":"吉林:长春","d":"2011-11","v":622},{"s":"吉林:长春","d":"2011-12","v":582},
{"s":"吉林:长春","d":"2012-01","v":525},{"s":"吉林:长春","d":"2012-02","v":515},{"s":"吉林:长春","d":"2012-03","v":515},{"s":"吉林:长春","d":"2012-04","v":525},{"s":"吉林:长春","d":"2012-05","v":602},{"s":"吉林:长春","d":"2012-06","v":607},{"s":"吉林:长春","d":"2012-07","v":597},{"s":"吉林:长春","d":"2012-08","v":612},{"s":"吉林:长春","d":"2012-09","v":642},{"s":"吉林:长春","d":"2012-10","v":652},{"s":"吉林:长春","d":"2012-11","v":622},{"s":"吉林:长春","d":"2012-12","v":607},
{"s":"吉林:长春","d":"2013-01","v":627},{"s":"吉林:长春","d":"2013-02","v":647},{"s":"吉林:长春","d":"2013-03","v":667},{"s":"吉林:长春","d":"2013-04","v":664},{"s":"吉林:长春","d":"2013-05","v":682},{"s":"吉林:长春","d":"2013-06","v":692},{"s":"吉林:长春","d":"2013-07","v":697},{"s":"吉林:长春","d":"2013-08","v":712},{"s":"吉林:长春","d":"2013-09","v":722},{"s":"吉林:长春","d":"2013-10","v":717},{"s":"吉林:长春","d":"2013-11","v":722},{"s":"吉林:长春","d":"2013-12","v":727},
{"s":"吉林:长春","d":"2014-01","v":725},{"s":"吉林:长春","d":"2014-02","v":717},{"s":"吉林:长春","d":"2014-03","v":682},{"s":"吉林:长春","d":"2014-04","v":637},{"s":"吉林:长春","d":"2014-05","v":682},{"s":"吉林:长春","d":"2014-06","v":697},{"s":"吉林:长春","d":"2014-07","v":692},{"s":"吉林:长春","d":"2014-08","v":652},{"s":"吉林:长春","d":"2014-09","v":672},{"s":"吉林:长春","d":"2014-10","v":642},{"s":"吉林:长春","d":"2014-11","v":637},{"s":"吉林:长春","d":"2014-12","v":632},
{"s":"吉林:长春","d":"2015-01","v":630},{"s":"吉林:长春","d":"2015-02","v":620},{"s":"吉林:长春","d":"2015-03","v":605},{"s":"吉林:长春","d":"2015-04","v":595},{"s":"吉林:长春","d":"2015-05","v":560},{"s":"吉林:长春","d":"2015-06","v":480},{"s":"吉林:长春","d":"2015-07","v":505},{"s":"吉林:长春","d":"2015-08","v":520},{"s":"吉林:长春","d":"2015-09","v":475},{"s":"吉林:长春","d":"2015-10","v":470},{"s":"吉林:长春","d":"2015-11","v":480},{"s":"吉林:长春","d":"2015-12","v":465},
{"s":"吉林:长春","d":"2016-01","v":465},{"s":"吉林:长春","d":"2016-02","v":450},{"s":"吉林:长春","d":"2016-03","v":430},{"s":"吉林:长春","d":"2016-04","v":435},{"s":"吉林:长春","d":"2016-05","v":540},{"s":"吉林:长春","d":"2016-06","v":610},{"s":"吉林:长春","d":"2016-07","v":550},{"s":"吉林:长春","d":"2016-08","v":500},{"s":"吉林:长春","d":"2016-09","v":570},{"s":"吉林:长春","d":"2016-10","v":540},{"s":"吉林:长春","d":"2016-11","v":590},{"s":"吉林:长春","d":"2016-12","v":630},
{"s":"吉林:长春","d":"2017-01","v":590},{"s":"吉林:长春","d":"2017-02","v":530},{"s":"吉林:长春","d":"2017-03","v":515},{"s":"吉林:长春","d":"2017-04","v":500},{"s":"吉林:长春","d":"2017-05","v":495},{"s":"吉林:长春","d":"2017-06","v":510},{"s":"吉林:长春","d":"2017-07","v":490},{"s":"吉林:长春","d":"2017-08","v":515},{"s":"吉林:长春","d":"2017-09","v":500},{"s":"吉林:长春","d":"2017-10","v":490},{"s":"吉林:长春","d":"2017-11","v":485},{"s":"吉林:长春","d":"2017-12","v":485},
{"s":"吉林:长春","d":"2018-01","v":480},{"s":"吉林:长春","d":"2018-02","v":475},{"s":"吉林:长春","d":"2018-03","v":520},{"s":"吉林:长春","d":"2018-04","v":520},{"s":"吉林:长春","d":"2018-05","v":475},{"s":"吉林:长春","d":"2018-06","v":485},{"s":"吉林:长春","d":"2018-07","v":500},{"s":"吉林:长春","d":"2018-08","v":510},{"s":"吉林:长春","d":"2018-09","v":545},{"s":"吉林:长春","d":"2018-10","v":550},{"s":"吉林:长春","d":"2018-11","v":565},{"s":"吉林:长春","d":"2018-12","v":530},
{"s":"吉林:长春","d":"2019-01","v":505},{"s":"吉林:长春","d":"2019-02","v":500},{"s":"吉林:长春","d":"2019-03","v":465},{"s":"吉林:长春","d":"2019-04","v":450},{"s":"吉林:长春","d":"2019-05","v":490},{"s":"吉林:长春","d":"2019-06","v":540},{"s":"吉林:长春","d":"2019-07","v":530},{"s":"吉林:长春","d":"2019-08","v":550},{"s":"吉林:长春","d":"2019-09","v":585},{"s":"吉林:长春","d":"2019-10","v":580},{"s":"吉林:长春","d":"2019-11","v":600},{"s":"吉林:长春","d":"2019-12","v":620},
{"s":"吉林:长春","d":"2020-01","v":608},{"s":"吉林:长春","d":"2020-02","v":593},{"s":"吉林:长春","d":"2020-03","v":618},{"s":"吉林:长春","d":"2020-04","v":603},{"s":"吉林:长春","d":"2020-05","v":603},{"s":"吉林:长春","d":"2020-06","v":628},{"s":"吉林:长春","d":"2020-07","v":738},{"s":"吉林:长春","d":"2020-08","v":648},{"s":"吉林:长春","d":"2020-09","v":668},{"s":"吉林:长春","d":"2020-10","v":728},{"s":"吉林:长春","d":"2020-11","v":708},{"s":"吉林:长春","d":"2020-12","v":688},
{"s":"吉林:长春","d":"2021-01","v":795},{"s":"吉林:长春","d":"2021-02","v":755},{"s":"吉林:长春","d":"2021-03","v":780},{"s":"吉林:长春","d":"2021-04","v":690},{"s":"吉林:长春","d":"2021-05","v":715},{"s":"吉林:长春","d":"2021-06","v":750},{"s":"吉林:长春","d":"2021-07","v":735},
{"s":"吉林:四平","d":"2010-05","v":548},{"s":"吉林:四平","d":"2010-06","v":528},{"s":"吉林:四平","d":"2010-07","v":533},{"s":"吉林:四平","d":"2010-08","v":538},{"s":"吉林:四平","d":"2010-09","v":543},{"s":"吉林:四平","d":"2010-10","v":543},{"s":"吉林:四平","d":"2010-11","v":548},{"s":"吉林:四平","d":"2010-12","v":623},
{"s":"吉林:四平","d":"2011-01","v":613},{"s":"吉林:四平","d":"2011-02","v":628},{"s":"吉林:四平","d":"2011-03","v":633},{"s":"吉林:四平","d":"2011-04","v":613},{"s":"吉林:四平","d":"2011-05","v":613},{"s":"吉林:四平","d":"2011-06","v":603},{"s":"吉林:四平","d":"2011-07","v":588},{"s":"吉林:四平","d":"2011-08","v":613},{"s":"吉林:四平","d":"2011-09","v":638},{"s":"吉林:四平","d":"2011-10","v":638},{"s":"吉林:四平","d":"2011-11","v":628},{"s":"吉林:四平","d":"2011-12","v":588},
{"s":"吉林:四平","d":"2012-01","v":530},{"s":"吉林:四平","d":"2012-02","v":520},{"s":"吉林:四平","d":"2012-03","v":520},{"s":"吉林:四平","d":"2012-04","v":530},{"s":"吉林:四平","d":"2012-05","v":608},{"s":"吉林:四平","d":"2012-06","v":613},{"s":"吉林:四平","d":"2012-07","v":603},{"s":"吉林:四平","d":"2012-08","v":618},{"s":"吉林:四平","d":"2012-09","v":648},{"s":"吉林:四平","d":"2012-10","v":658},{"s":"吉林:四平","d":"2012-11","v":628},{"s":"吉林:四平","d":"2012-12","v":613},
{"s":"吉林:四平","d":"2013-01","v":630},{"s":"吉林:四平","d":"2013-02","v":650},{"s":"吉林:四平","d":"2013-03","v":670},{"s":"吉林:四平","d":"2013-04","v":667},{"s":"吉林:四平","d":"2013-05","v":685},{"s":"吉林:四平","d":"2013-06","v":695},{"s":"吉林:四平","d":"2013-07","v":700},{"s":"吉林:四平","d":"2013-08","v":715},{"s":"吉林:四平","d":"2013-09","v":725},{"s":"吉林:四平","d":"2013-10","v":720},{"s":"吉林:四平","d":"2013-11","v":725},{"s":"吉林:四平","d":"2013-12","v":730},
{"s":"吉林:四平","d":"2014-01","v":728},{"s":"吉林:四平","d":"2014-02","v":720},{"s":"吉林:四平","d":"2014-03","v":685},{"s":"吉林:四平","d":"2014-04","v":640},{"s":"吉林:四平","d":"2014-05","v":685},{"s":"吉林:四平","d":"2014-06","v":700},{"s":"吉林:四平","d":"2014-07","v":695},{"s":"吉林:四平","d":"2014-08","v":655},{"s":"吉林:四平","d":"2014-09","v":675},{"s":"吉林:四平","d":"2014-10","v":645},{"s":"吉林:四平","d":"2014-11","v":640},{"s":"吉林:四平","d":"2014-12","v":635},
{"s":"吉林:四平","d":"2015-01","v":625},{"s":"吉林:四平","d":"2015-02","v":615},{"s":"吉林:四平","d":"2015-03","v":600},{"s":"吉林:四平","d":"2015-04","v":590},{"s":"吉林:四平","d":"2015-05","v":555},{"s":"吉林:四平","d":"2015-06","v":500},{"s":"吉林:四平","d":"2015-07","v":525},{"s":"吉林:四平","d":"2015-08","v":540},{"s":"吉林:四平","d":"2015-09","v":495},{"s":"吉林:四平","d":"2015-10","v":490},{"s":"吉林:四平","d":"2015-11","v":500},{"s":"吉林:四平","d":"2015-12","v":485},
{"s":"吉林:四平","d":"2016-01","v":485},{"s":"吉林:四平","d":"2016-02","v":470},{"s":"吉林:四平","d":"2016-03","v":450},{"s":"吉林:四平","d":"2016-04","v":440},{"s":"吉林:四平","d":"2016-05","v":545},{"s":"吉林:四平","d":"2016-06","v":615},{"s":"吉林:四平","d":"2016-07","v":555},{"s":"吉林:四平","d":"2016-08","v":505},{"s":"吉林:四平","d":"2016-09","v":575},{"s":"吉林:四平","d":"2016-10","v":545},{"s":"吉林:四平","d":"2016-11","v":595},{"s":"吉林:四平","d":"2016-12","v":635},
{"s":"吉林:四平","d":"2017-01","v":595},{"s":"吉林:四平","d":"2017-02","v":535},{"s":"吉林:四平","d":"2017-03","v":520},{"s":"吉林:四平","d":"2017-04","v":505},{"s":"吉林:四平","d":"2017-05","v":500},{"s":"吉林:四平","d":"2017-06","v":515},{"s":"吉林:四平","d":"2017-07","v":495},{"s":"吉林:四平","d":"2017-08","v":520},{"s":"吉林:四平","d":"2017-09","v":505},{"s":"吉林:四平","d":"2017-10","v":495},{"s":"吉林:四平","d":"2017-11","v":490},{"s":"吉林:四平","d":"2017-12","v":490},
{"s":"吉林:四平","d":"2018-01","v":510},{"s":"吉林:四平","d":"2018-02","v":475},{"s":"吉林:四平","d":"2018-03","v":520},{"s":"吉林:四平","d":"2018-04","v":520},{"s":"吉林:四平","d":"2018-05","v":475},{"s":"吉林:四平","d":"2018-06","v":485},{"s":"吉林:四平","d":"2018-07","v":500},{"s":"吉林:四平","d":"2018-08","v":510},{"s":"吉林:四平","d":"2018-09","v":530},{"s":"吉林:四平","d":"2018-10","v":535},{"s":"吉林:四平","d":"2018-11","v":550},{"s":"吉林:四平","d":"2018-12","v":530},
{"s":"吉林:四平","d":"2019-01","v":503},{"s":"吉林:四平","d":"2019-02","v":498},{"s":"吉林:四平","d":"2019-03","v":463},{"s":"吉林:四平","d":"2019-04","v":448},{"s":"吉林:四平","d":"2019-05","v":488},{"s":"吉林:四平","d":"2019-06","v":538},{"s":"吉林:四平","d":"2019-07","v":528},{"s":"吉林:四平","d":"2019-08","v":548},{"s":"吉林:四平","d":"2019-09","v":583},{"s":"吉林:四平","d":"2019-10","v":578},{"s":"吉林:四平","d":"2019-11","v":598},{"s":"吉林:四平","d":"2019-12","v":618},
{"s":"吉林:四平","d":"2020-01","v":610},{"s":"吉林:四平","d":"2020-02","v":595},{"s":"吉林:四平","d":"2020-03","v":620},{"s":"吉林:四平","d":"2020-04","v":605},{"s":"吉林:四平","d":"2020-05","v":605},{"s":"吉林:四平","d":"2020-06","v":630},{"s":"吉林:四平","d":"2020-07","v":740},{"s":"吉林:四平","d":"2020-08","v":650},{"s":"吉林:四平","d":"2020-09","v":670},{"s":"吉林:四平","d":"2020-10","v":730},{"s":"吉林:四平","d":"2020-11","v":710},{"s":"吉林:四平","d":"2020-12","v":690},
{"s":"吉林:四平","d":"2021-01","v":808},{"s":"吉林:四平","d":"2021-02","v":768},{"s":"吉林:四平","d":"2021-03","v":793},{"s":"吉林:四平","d":"2021-04","v":695},{"s":"吉林:四平","d":"2021-05","v":720},{"s":"吉林:四平","d":"2021-06","v":763},{"s":"吉林:四平","d":"2021-07","v":748},
{"s":"山东:邹平","d":"2010-05","v":557},{"s":"山东:邹平","d":"2010-06","v":537},{"s":"山东:邹平","d":"2010-07","v":542},{"s":"山东:邹平","d":"2010-08","v":547},{"s":"山东:邹平","d":"2010-09","v":552},{"s":"山东:邹平","d":"2010-10","v":552},{"s":"山东:邹平","d":"2010-11","v":557},{"s":"山东:邹平","d":"2010-12","v":632},
{"s":"山东:邹平","d":"2011-01","v":622},{"s":"山东:邹平","d":"2011-02","v":637},{"s":"山东:邹平","d":"2011-03","v":642},{"s":"山东:邹平","d":"2011-04","v":622},{"s":"山东:邹平","d":"2011-05","v":622},{"s":"山东:邹平","d":"2011-06","v":612},{"s":"山东:邹平","d":"2011-07","v":597},{"s":"山东:邹平","d":"2011-08","v":622},{"s":"山东:邹平","d":"2011-09","v":647},{"s":"山东:邹平","d":"2011-10","v":647},{"s":"山东:邹平","d":"2011-11","v":637},{"s":"山东:邹平","d":"2011-12","v":597},
{"s":"山东:邹平","d":"2012-01","v":557},{"s":"山东:邹平","d":"2012-02","v":547},{"s":"山东:邹平","d":"2012-03","v":547},{"s":"山东:邹平","d":"2012-04","v":557},{"s":"山东:邹平","d":"2012-05","v":617},{"s":"山东:邹平","d":"2012-06","v":622},{"s":"山东:邹平","d":"2012-07","v":612},{"s":"山东:邹平","d":"2012-08","v":627},{"s":"山东:邹平","d":"2012-09","v":657},{"s":"山东:邹平","d":"2012-10","v":667},{"s":"山东:邹平","d":"2012-11","v":637},{"s":"山东:邹平","d":"2012-12","v":622},
{"s":"山东:邹平","d":"2013-01","v":632},{"s":"山东:邹平","d":"2013-02","v":652},{"s":"山东:邹平","d":"2013-03","v":672},{"s":"山东:邹平","d":"2013-04","v":669},{"s":"山东:邹平","d":"2013-05","v":687},{"s":"山东:邹平","d":"2013-06","v":697},{"s":"山东:邹平","d":"2013-07","v":702},{"s":"山东:邹平","d":"2013-08","v":717},{"s":"山东:邹平","d":"2013-09","v":727},{"s":"山东:邹平","d":"2013-10","v":722},{"s":"山东:邹平","d":"2013-11","v":727},{"s":"山东:邹平","d":"2013-12","v":732},
{"s":"山东:邹平","d":"2014-01","v":730},{"s":"山东:邹平","d":"2014-02","v":722},{"s":"山东:邹平","d":"2014-03","v":687},{"s":"山东:邹平","d":"2014-04","v":642},{"s":"山东:邹平","d":"2014-05","v":687},{"s":"山东:邹平","d":"2014-06","v":702},{"s":"山东:邹平","d":"2014-07","v":697},{"s":"山东:邹平","d":"2014-08","v":657},{"s":"山东:邹平","d":"2014-09","v":677},{"s":"山东:邹平","d":"2014-10","v":647},{"s":"山东:邹平","d":"2014-11","v":642},{"s":"山东:邹平","d":"2014-12","v":637},
{"s":"山东:邹平","d":"2015-01","v":622},{"s":"山东:邹平","d":"2015-02","v":612},{"s":"山东:邹平","d":"2015-03","v":597},{"s":"山东:邹平","d":"2015-04","v":587},{"s":"山东:邹平","d":"2015-05","v":552},{"s":"山东:邹平","d":"2015-06","v":472},{"s":"山东:邹平","d":"2015-07","v":497},{"s":"山东:邹平","d":"2015-08","v":512},{"s":"山东:邹平","d":"2015-09","v":467},{"s":"山东:邹平","d":"2015-10","v":462},{"s":"山东:邹平","d":"2015-11","v":472},{"s":"山东:邹平","d":"2015-12","v":457},
{"s":"山东:邹平","d":"2016-01","v":457},{"s":"山东:邹平","d":"2016-02","v":442},{"s":"山东:邹平","d":"2016-03","v":422},{"s":"山东:邹平","d":"2016-04","v":410},{"s":"山东:邹平","d":"2016-05","v":547},{"s":"山东:邹平","d":"2016-06","v":617},{"s":"山东:邹平","d":"2016-07","v":557},{"s":"山东:邹平","d":"2016-08","v":507},{"s":"山东:邹平","d":"2016-09","v":577},{"s":"山东:邹平","d":"2016-10","v":547},{"s":"山东:邹平","d":"2016-11","v":597},{"s":"山东:邹平","d":"2016-12","v":637},
{"s":"山东:邹平","d":"2017-01","v":597},{"s":"山东:邹平","d":"2017-02","v":537},{"s":"山东:邹平","d":"2017-03","v":522},{"s":"山东:邹平","d":"2017-04","v":507},{"s":"山东:邹平","d":"2017-05","v":502},{"s":"山东:邹平","d":"2017-06","v":517},{"s":"山东:邹平","d":"2017-07","v":497},{"s":"山东:邹平","d":"2017-08","v":522},{"s":"山东:邹平","d":"2017-09","v":507},{"s":"山东:邹平","d":"2017-10","v":497},{"s":"山东:邹平","d":"2017-11","v":492},{"s":"山东:邹平","d":"2017-12","v":492},
{"s":"山东:邹平","d":"2018-01","v":475},{"s":"山东:邹平","d":"2018-02","v":470},{"s":"山东:邹平","d":"2018-03","v":522},{"s":"山东:邹平","d":"2018-04","v":522},{"s":"山东:邹平","d":"2018-05","v":477},{"s":"山东:邹平","d":"2018-06","v":487},{"s":"山东:邹平","d":"2018-07","v":502},{"s":"山东:邹平","d":"2018-08","v":512},{"s":"山东:邹平","d":"2018-09","v":532},{"s":"山东:邹平","d":"2018-10","v":537},{"s":"山东:邹平","d":"2018-11","v":552},{"s":"山东:邹平","d":"2018-12","v":532},
{"s":"山东:邹平","d":"2019-01","v":512},{"s":"山东:邹平","d":"2019-02","v":507},{"s":"山东:邹平","d":"2019-03","v":472},{"s":"山东:邹平","d":"2019-04","v":457},{"s":"山东:邹平","d":"2019-05","v":497},{"s":"山东:邹平","d":"2019-06","v":547},{"s":"山东:邹平","d":"2019-07","v":537},{"s":"山东:邹平","d":"2019-08","v":557},{"s":"山东:邹平","d":"2019-09","v":592},{"s":"山东:邹平","d":"2019-10","v":587},{"s":"山东:邹平","d":"2019-11","v":607},{"s":"山东:邹平","d":"2019-12","v":627},
{"s":"山东:邹平","d":"2020-01","v":617},{"s":"山东:邹平","d":"2020-02","v":602},{"s":"山东:邹平","d":"2020-03","v":627},{"s":"山东:邹平","d":"2020-04","v":612},{"s":"山东:邹平","d":"2020-05","v":612},{"s":"山东:邹平","d":"2020-06","v":637},{"s":"山东:邹平","d":"2020-07","v":747},{"s":"山东:邹平","d":"2020-08","v":657},{"s":"山东:邹平","d":"2020-09","v":688},{"s":"山东:邹平","d":"2020-10","v":748},{"s":"山东:邹平","d":"2020-11","v":728},{"s":"山东:邹平","d":"2020-12","v":697},
{"s":"山东:邹平","d":"2021-01","v":815},{"s":"山东:邹平","d":"2021-02","v":777},{"s":"山东:邹平","d":"2021-03","v":800},{"s":"山东:邹平","d":"2021-04","v":697},{"s":"山东:邹平","d":"2021-05","v":727},{"s":"山东:邹平","d":"2021-06","v":770},{"s":"山东:邹平","d":"2021-07","v":757},
{"s":"山东:潍坊","d":"2010-05","v":560},{"s":"山东:潍坊","d":"2010-06","v":540},{"s":"山东:潍坊","d":"2010-07","v":545},{"s":"山东:潍坊","d":"2010-08","v":550},{"s":"山东:潍坊","d":"2010-09","v":555},{"s":"山东:潍坊","d":"2010-10","v":555},{"s":"山东:潍坊","d":"2010-11","v":560},{"s":"山东:潍坊","d":"2010-12","v":635},
{"s":"山东:潍坊","d":"2011-01","v":625},{"s":"山东:潍坊","d":"2011-02","v":640},{"s":"山东:潍坊","d":"2011-03","v":645},{"s":"山东:潍坊","d":"2011-04","v":625},{"s":"山东:潍坊","d":"2011-05","v":625},{"s":"山东:潍坊","d":"2011-06","v":615},{"s":"山东:潍坊","d":"2011-07","v":600},{"s":"山东:潍坊","d":"2011-08","v":625},{"s":"山东:潍坊","d":"2011-09","v":650},{"s":"山东:潍坊","d":"2011-10","v":650},{"s":"山东:潍坊","d":"2011-11","v":640},{"s":"山东:潍坊","d":"2011-12","v":600},
{"s":"山东:潍坊","d":"2012-01","v":560},{"s":"山东:潍坊","d":"2012-02","v":550},{"s":"山东:潍坊","d":"2012-03","v":550},{"s":"山东:潍坊","d":"2012-04","v":560},{"s":"山东:潍坊","d":"2012-05","v":620},{"s":"山东:潍坊","d":"2012-06","v":625},{"s":"山东:潍坊","d":"2012-07","v":615},{"s":"山东:潍坊","d":"2012-08","v":630},{"s":"山东:潍坊","d":"2012-09","v":660},{"s":"山东:潍坊","d":"2012-10","v":670},{"s":"山东:潍坊","d":"2012-11","v":640},{"s":"山东:潍坊","d":"2012-12","v":625},
{"s":"山东:潍坊","d":"2013-01","v":635},{"s":"山东:潍坊","d":"2013-02","v":655},{"s":"山东:潍坊","d":"2013-03","v":675},{"s":"山东:潍坊","d":"2013-04","v":672},{"s":"山东:潍坊","d":"2013-05","v":690},{"s":"山东:潍坊","d":"2013-06","v":700},{"s":"山东:潍坊","d":"2013-07","v":705},{"s":"山东:潍坊","d":"2013-08","v":720},{"s":"山东:潍坊","d":"2013-09","v":730},{"s":"山东:潍坊","d":"2013-10","v":725},{"s":"山东:潍坊","d":"2013-11","v":730},{"s":"山东:潍坊","d":"2013-12","v":735},
{"s":"山东:潍坊","d":"2014-01","v":733},{"s":"山东:潍坊","d":"2014-02","v":725},{"s":"山东:潍坊","d":"2014-03","v":690},{"s":"山东:潍坊","d":"2014-04","v":645},{"s":"山东:潍坊","d":"2014-05","v":690},{"s":"山东:潍坊","d":"2014-06","v":705},{"s":"山东:潍坊","d":"2014-07","v":700},{"s":"山东:潍坊","d":"2014-08","v":660},{"s":"山东:潍坊","d":"2014-09","v":680},{"s":"山东:潍坊","d":"2014-10","v":650},{"s":"山东:潍坊","d":"2014-11","v":645},{"s":"山东:潍坊","d":"2014-12","v":640},
{"s":"山东:潍坊","d":"2015-01","v":625},{"s":"山东:潍坊","d":"2015-02","v":615},{"s":"山东:潍坊","d":"2015-03","v":600},{"s":"山东:潍坊","d":"2015-04","v":590},{"s":"山东:潍坊","d":"2015-05","v":555},{"s":"山东:潍坊","d":"2015-06","v":475},{"s":"山东:潍坊","d":"2015-07","v":500},{"s":"山东:潍坊","d":"2015-08","v":515},{"s":"山东:潍坊","d":"2015-09","v":470},{"s":"山东:潍坊","d":"2015-10","v":465},{"s":"山东:潍坊","d":"2015-11","v":475},{"s":"山东:潍坊","d":"2015-12","v":460},
{"s":"山东:潍坊","d":"2016-01","v":460},{"s":"山东:潍坊","d":"2016-02","v":445},{"s":"山东:潍坊","d":"2016-03","v":425},{"s":"山东:潍坊","d":"2016-04","v":430},{"s":"山东:潍坊","d":"2016-05","v":550},{"s":"山东:潍坊","d":"2016-06","v":620},{"s":"山东:潍坊","d":"2016-07","v":560},{"s":"山东:潍坊","d":"2016-08","v":510},{"s":"山东:潍坊","d":"2016-09","v":580},{"s":"山东:潍坊","d":"2016-10","v":550},{"s":"山东:潍坊","d":"2016-11","v":600},{"s":"山东:潍坊","d":"2016-12","v":640},
{"s":"山东:潍坊","d":"2017-01","v":600},{"s":"山东:潍坊","d":"2017-02","v":540},{"s":"山东:潍坊","d":"2017-03","v":525},{"s":"山东:潍坊","d":"2017-04","v":510},{"s":"山东:潍坊","d":"2017-05","v":505},{"s":"山东:潍坊","d":"2017-06","v":520},{"s":"山东:潍坊","d":"2017-07","v":500},{"s":"山东:潍坊","d":"2017-08","v":525},{"s":"山东:潍坊","d":"2017-09","v":510},{"s":"山东:潍坊","d":"2017-10","v":500},{"s":"山东:潍坊","d":"2017-11","v":495},{"s":"山东:潍坊","d":"2017-12","v":495},
{"s":"山东:潍坊","d":"2018-01","v":485},{"s":"山东:潍坊","d":"2018-02","v":480},{"s":"山东:潍坊","d":"2018-03","v":525},{"s":"山东:潍坊","d":"2018-04","v":525},{"s":"山东:潍坊","d":"2018-05","v":480},{"s":"山东:潍坊","d":"2018-06","v":490},{"s":"山东:潍坊","d":"2018-07","v":505},{"s":"山东:潍坊","d":"2018-08","v":515},{"s":"山东:潍坊","d":"2018-09","v":535},{"s":"山东:潍坊","d":"2018-10","v":540},{"s":"山东:潍坊","d":"2018-11","v":555},{"s":"山东:潍坊","d":"2018-12","v":535},
{"s":"山东:潍坊","d":"2019-01","v":515},{"s":"山东:潍坊","d":"2019-02","v":510},{"s":"山东:潍坊","d":"2019-03","v":475},{"s":"山东:潍坊","d":"2019-04","v":460},{"s":"山东:潍坊","d":"2019-05","v":500},{"s":"山东:潍坊","d":"2019-06","v":550},{"s":"山东:潍坊","d":"2019-07","v":540},{"s":"山东:潍坊","d":"2019-08","v":560},{"s":"山东:潍坊","d":"2019-09","v":595},{"s":"山东:潍坊","d":"2019-10","v":590},{"s":"山东:潍坊","d":"2019-11","v":610},{"s":"山东:潍坊","d":"2019-12","v":630},
{"s":"山东:潍坊","d":"2020-01","v":620},{"s":"山东:潍坊","d":"2020-02","v":605},{"s":"山东:潍坊","d":"2020-03","v":630},{"s":"山东:潍坊","d":"2020-04","v":615},{"s":"山东:潍坊","d":"2020-05","v":615},{"s":"山东:潍坊","d":"2020-06","v":640},{"s":"山东:潍坊","d":"2020-07","v":750},{"s":"山东:潍坊","d":"2020-08","v":660},{"s":"山东:潍坊","d":"2020-09","v":680},{"s":"山东:潍坊","d":"2020-10","v":740},{"s":"山东:潍坊","d":"2020-11","v":720},{"s":"山东:潍坊","d":"2020-12","v":700},
{"s":"山东:潍坊","d":"2021-01","v":820},{"s":"山东:潍坊","d":"2021-02","v":780},{"s":"山东:潍坊","d":"2021-03","v":805},{"s":"山东:潍坊","d":"2021-04","v":700},{"s":"山东:潍坊","d":"2021-05","v":730},{"s":"山东:潍坊","d":"2021-06","v":775},{"s":"山东:潍坊","d":"2021-07","v":760}
]},
"mark": {"type": "line", "strokeWidth": 2.8},
"encoding": {
"x": {"field": "d", "type": "temporal",
"scale": {"domain": [{"year": 2010, "month": 5, "date": 1}, {"year": 2021, "month": 9, "date": 15}]},
"axis": {"title": null, "format": "%Y-%m", "labelAngle": 0, "labelFontSize": 8, "labelFlush": false, "labelOverlap": false, "grid": false, "domainColor": "#D9D9D9", "tickColor": "#D9D9D9", "tickSize": 4, "labelPadding": 3,
"values": [{"year": 2010, "month": 5, "date": 1}, {"year": 2011, "month": 5, "date": 1}, {"year": 2012, "month": 5, "date": 1}, {"year": 2013, "month": 5, "date": 1}, {"year": 2014, "month": 5, "date": 1}, {"year": 2015, "month": 5, "date": 1}, {"year": 2016, "month": 5, "date": 1}, {"year": 2017, "month": 5, "date": 1}, {"year": 2018, "month": 5, "date": 1}, {"year": 2019, "month": 5, "date": 1}, {"year": 2020, "month": 5, "date": 1}, {"year": 2021, "month": 5, "date": 1}]}},
"y": {"field": "v", "type": "quantitative", "scale": {"domain": [300, 927.7], "nice": false},
"axis": {"title": null, "values": [300, 400, 500, 600, 700, 800, 900], "domain": false, "ticks": false, "grid": false, "labelFontSize": 8, "labelPadding": 9}},
"color": {"field": "s", "type": "nominal",
"scale": {"domain": ["黑龙江:肇东", "吉林:长春", "吉林:四平", "山东:邹平", "山东:潍坊"], "range": ["#5B9BD5", "#ED7D31", "#A5A5A5", "#FFC000", "#4472C4"]},
"legend": {"title": null, "orient": "none", "direction": "horizontal", "legendX": -6, "legendY": 170, "columns": 3, "gridAlign": "all", "labelExpr": "'副产品价格' + datum.label", "symbolType": "M-2.78,0H2.78", "symbolSize": 81, "symbolStrokeWidth": 3, "symbolOffset": 8, "labelOffset": 11, "labelFontSize": 9, "columnPadding": 47, "rowPadding": 8, "labelLimit": 300}}
}
}
], "spacing": 0, "bounds": "flush", "resolve": {"scale": {"color": "independent"}}},

{"hconcat": [
{"width": 588, "height": 2, "view": {"fill": "#E46C0A", "stroke": null}, "data": {"values": []}, "mark": "point",
"title": {"text": "图 11：玉米仓单及交割量", "orient": "bottom", "anchor": "start", "offset": 15, "font": "Noto Sans CJK SC", "fontSize": 11.5, "fontWeight": "bold", "color": "#E46C0A"}},
{"width": 1, "height": 39, "data": {"values": []}, "mark": "point"}
], "spacing": 0, "bounds": "flush"},

{"hconcat": [
{"width": 293, "height": 2, "view": {"fill": "#E46C0A", "stroke": null}, "data": {"values": []}, "mark": "point",
"title": {"text": "注册仓单量", "orient": "bottom", "anchor": "middle", "dx": -1, "offset": 13, "font": "Noto Sans CJK SC", "fontSize": 9.5, "fontWeight": "bold", "color": "#000000"}},
{"width": 295, "height": 2, "view": {"fill": "#E46C0A", "stroke": null}, "data": {"values": []}, "mark": "point",
"title": {"text": "交割量（手）", "orient": "bottom", "anchor": "middle", "dx": -4, "offset": 13, "font": "Noto Sans CJK SC", "fontSize": 9.5, "fontWeight": "bold", "color": "#000000"}},
{"width": 1, "height": 37, "data": {"values": []}, "mark": "point"}
], "spacing": 0, "bounds": "flush"},

{"hconcat": [
{"width": 43, "height": 173, "data": {"values": []}, "mark": "point"},
{
"width": 233, "height": 113,
"data": {"values": [
{"s":"2016","d":"2001-01-01","v":0},{"s":"2016","d":"2001-01-11","v":1800},{"s":"2016","d":"2001-02-16","v":1800},{"s":"2016","d":"2001-02-27","v":1000},{"s":"2016","d":"2001-03-05","v":0},{"s":"2016","d":"2001-04-27","v":0},{"s":"2016","d":"2001-05-02","v":4000},{"s":"2016","d":"2001-05-05","v":8500},{"s":"2016","d":"2001-05-07","v":12000},{"s":"2016","d":"2001-05-12","v":17700},{"s":"2016","d":"2001-05-17","v":22500},{"s":"2016","d":"2001-05-23","v":17700},{"s":"2016","d":"2001-05-30","v":15900},{"s":"2016","d":"2001-06-07","v":12900},{"s":"2016","d":"2001-06-15","v":8500},{"s":"2016","d":"2001-06-22","v":4800},{"s":"2016","d":"2001-06-30","v":2200},{"s":"2016","d":"2001-07-31","v":1800},{"s":"2016","d":"2001-08-05","v":0},{"s":"2016","d":"2001-09-05","v":0},{"s":"2016","d":"2001-09-13","v":1500},{"s":"2016","d":"2001-09-18","v":0},
{"s":"2017","d":"2001-01-01","v":1100},{"s":"2017","d":"2001-01-11","v":6600},{"s":"2017","d":"2001-01-19","v":8500},{"s":"2017","d":"2001-01-24","v":8500},{"s":"2017","d":"2001-01-27","v":4800},{"s":"2017","d":"2001-02-16","v":4800},{"s":"2017","d":"2001-03-04","v":4400},{"s":"2017","d":"2001-03-14","v":6600},{"s":"2017","d":"2001-03-24","v":6300},{"s":"2017","d":"2001-03-27","v":0},{"s":"2017","d":"2001-04-14","v":1000},{"s":"2017","d":"2001-04-22","v":38000},{"s":"2017","d":"2001-04-27","v":46000},{"s":"2017","d":"2001-05-05","v":45000},{"s":"2017","d":"2001-05-12","v":36000},{"s":"2017","d":"2001-05-17","v":27000},{"s":"2017","d":"2001-05-25","v":25000},{"s":"2017","d":"2001-06-15","v":21400},{"s":"2017","d":"2001-07-05","v":17700},{"s":"2017","d":"2001-07-16","v":14000},{"s":"2017","d":"2001-07-28","v":10300},{"s":"2017","d":"2001-08-10","v":8500},{"s":"2017","d":"2001-08-21","v":8500},{"s":"2017","d":"2001-08-26","v":12000},{"s":"2017","d":"2001-09-02","v":17700},{"s":"2017","d":"2001-09-10","v":14000},{"s":"2017","d":"2001-09-15","v":12000},{"s":"2017","d":"2001-09-26","v":11000},{"s":"2017","d":"2001-10-16","v":10300},{"s":"2017","d":"2001-10-21","v":17700},{"s":"2017","d":"2001-12-02","v":17700},{"s":"2017","d":"2001-12-12","v":20300},{"s":"2017","d":"2001-12-20","v":23300},{"s":"2017","d":"2001-12-25","v":28800},
{"s":"2018","d":"2001-01-01","v":28000},{"s":"2018","d":"2001-01-11","v":28800},{"s":"2018","d":"2001-01-19","v":34300},{"s":"2018","d":"2001-02-01","v":36000},{"s":"2018","d":"2001-02-09","v":36200},{"s":"2018","d":"2001-02-19","v":30600},{"s":"2018","d":"2001-03-09","v":29900},{"s":"2018","d":"2001-03-19","v":25100},{"s":"2018","d":"2001-03-24","v":23300},{"s":"2018","d":"2001-03-28","v":8500},{"s":"2018","d":"2001-04-14","v":8500},{"s":"2018","d":"2001-04-22","v":15900},{"s":"2018","d":"2001-05-02","v":22500},{"s":"2018","d":"2001-05-15","v":24000},{"s":"2018","d":"2001-06-15","v":26200},{"s":"2018","d":"2001-07-05","v":34300},{"s":"2018","d":"2001-07-26","v":36200},{"s":"2018","d":"2001-08-21","v":36200},{"s":"2018","d":"2001-08-26","v":45400},{"s":"2018","d":"2001-09-05","v":58300},{"s":"2018","d":"2001-09-15","v":59400},{"s":"2018","d":"2001-10-16","v":59400},{"s":"2018","d":"2001-11-06","v":67600},{"s":"2018","d":"2001-11-16","v":64600},{"s":"2018","d":"2001-11-26","v":52800},{"s":"2018","d":"2001-12-07","v":45400},{"s":"2018","d":"2001-12-17","v":44700},{"s":"2018","d":"2001-12-25","v":41000},
{"s":"2019","d":"2001-01-01","v":39900},{"s":"2019","d":"2001-01-06","v":38000},{"s":"2019","d":"2001-01-11","v":43600},{"s":"2019","d":"2001-01-19","v":38000},{"s":"2019","d":"2001-02-01","v":34300},{"s":"2019","d":"2001-02-21","v":32500},{"s":"2019","d":"2001-03-09","v":30600},{"s":"2019","d":"2001-03-24","v":23300},{"s":"2019","d":"2001-03-27","v":0},{"s":"2019","d":"2001-04-14","v":3000},{"s":"2019","d":"2001-04-24","v":52800},{"s":"2019","d":"2001-05-02","v":73100},{"s":"2019","d":"2001-05-12","v":91500},{"s":"2019","d":"2001-05-25","v":87900},{"s":"2019","d":"2001-06-04","v":84200},{"s":"2019","d":"2001-06-20","v":84200},{"s":"2019","d":"2001-06-25","v":93400},{"s":"2019","d":"2001-07-05","v":94100},{"s":"2019","d":"2001-07-08","v":96400},{"s":"2019","d":"2001-07-16","v":92700},{"s":"2019","d":"2001-07-26","v":86800},{"s":"2019","d":"2001-08-15","v":85300},{"s":"2019","d":"2001-08-26","v":83100},{"s":"2019","d":"2001-08-31","v":86000},{"s":"2019","d":"2001-09-08","v":76800},{"s":"2019","d":"2001-09-15","v":63900},{"s":"2019","d":"2001-09-20","v":52800},{"s":"2019","d":"2001-09-23","v":41700},{"s":"2019","d":"2001-10-06","v":39900},{"s":"2019","d":"2001-10-27","v":41000},{"s":"2019","d":"2001-11-06","v":36200},{"s":"2019","d":"2001-11-16","v":28800},{"s":"2019","d":"2001-12-02","v":27700},{"s":"2019","d":"2001-12-07","v":23300},{"s":"2019","d":"2001-12-25","v":22500},
{"s":"2020","d":"2001-01-01","v":25100},{"s":"2020","d":"2001-01-22","v":27700},{"s":"2020","d":"2001-02-11","v":27000},{"s":"2020","d":"2001-03-04","v":25100},{"s":"2020","d":"2001-03-09","v":19600},{"s":"2020","d":"2001-03-24","v":17700},{"s":"2020","d":"2001-03-27","v":0},{"s":"2020","d":"2001-04-09","v":4800},{"s":"2020","d":"2001-04-17","v":19600},{"s":"2020","d":"2001-04-22","v":41700},{"s":"2020","d":"2001-04-29","v":60200},{"s":"2020","d":"2001-05-05","v":73100},{"s":"2020","d":"2001-05-12","v":67600},{"s":"2020","d":"2001-05-25","v":62000},{"s":"2020","d":"2001-06-04","v":52800},{"s":"2020","d":"2001-06-12","v":45400},{"s":"2020","d":"2001-06-17","v":49800},{"s":"2020","d":"2001-06-28","v":49100},{"s":"2020","d":"2001-07-03","v":34300},{"s":"2020","d":"2001-07-16","v":29900},{"s":"2020","d":"2001-08-05","v":28800},{"s":"2020","d":"2001-08-26","v":32500},{"s":"2020","d":"2001-09-10","v":36200},{"s":"2020","d":"2001-10-16","v":38000},{"s":"2020","d":"2001-10-24","v":47300},{"s":"2020","d":"2001-11-01","v":52800},{"s":"2020","d":"2001-11-08","v":63100},{"s":"2020","d":"2001-11-21","v":64600},{"s":"2020","d":"2001-11-29","v":71300},{"s":"2020","d":"2001-12-07","v":73100},{"s":"2020","d":"2001-12-14","v":80500},{"s":"2020","d":"2001-12-25","v":96400},
{"s":"2021","d":"2001-01-01","v":96400},{"s":"2021","d":"2001-01-11","v":100000},{"s":"2021","d":"2001-01-19","v":100800},{"s":"2021","d":"2001-01-27","v":95300},{"s":"2021","d":"2001-02-01","v":91500},{"s":"2021","d":"2001-02-06","v":84200},{"s":"2021","d":"2001-02-16","v":82300},{"s":"2021","d":"2001-02-21","v":78600},{"s":"2021","d":"2001-03-04","v":76800},{"s":"2021","d":"2001-03-06","v":69400},{"s":"2021","d":"2001-03-10","v":73100},{"s":"2021","d":"2001-03-14","v":67600},{"s":"2021","d":"2001-03-19","v":54600},{"s":"2021","d":"2001-03-23","v":38000},{"s":"2021","d":"2001-03-27","v":0},{"s":"2021","d":"2001-04-04","v":4800},{"s":"2021","d":"2001-04-17","v":15900},{"s":"2021","d":"2001-04-22","v":17700},{"s":"2021","d":"2001-05-05","v":21400},{"s":"2021","d":"2001-05-12","v":30600},{"s":"2021","d":"2001-05-25","v":29900},{"s":"2021","d":"2001-06-04","v":28800},{"s":"2021","d":"2001-06-10","v":24000},{"s":"2021","d":"2001-06-25","v":24000},{"s":"2021","d":"2001-06-30","v":27000},{"s":"2021","d":"2001-07-16","v":36200},{"s":"2021","d":"2001-08-05","v":35100},{"s":"2021","d":"2001-08-21","v":38000},{"s":"2021","d":"2001-08-26","v":28800},{"s":"2021","d":"2001-09-15","v":27000},{"s":"2021","d":"2001-10-06","v":21400},{"s":"2021","d":"2001-10-11","v":23300},{"s":"2021","d":"2001-10-16","v":30600},{"s":"2021","d":"2001-10-19","v":29000},{"s":"2021","d":"2001-10-22","v":36200}
]},
"mark": {"type": "line", "strokeWidth": 2.2},
"encoding": {
"x": {"field": "d", "type": "temporal",
"scale": {"domain": [{"year": 2001, "month": 1, "date": 1}, {"year": 2001, "month": 12, "date": 25}]},
"axis": {"title": null, "format": "%-m-%-d", "labelAngle": 0, "labelFont": "Liberation Serif", "labelFontSize": 8.5, "labelFlush": false, "labelOverlap": false, "grid": false, "domainColor": "#D9D9D9", "tickColor": "#D9D9D9", "tickSize": 3, "labelPadding": 2,
"values": [{"year": 2001, "month": 1, "date": 1}, {"year": 2001, "month": 2, "date": 1}, {"year": 2001, "month": 3, "date": 1}, {"year": 2001, "month": 4, "date": 1}, {"year": 2001, "month": 5, "date": 1}, {"year": 2001, "month": 6, "date": 1}, {"year": 2001, "month": 7, "date": 1}, {"year": 2001, "month": 8, "date": 1}, {"year": 2001, "month": 9, "date": 1}, {"year": 2001, "month": 10, "date": 1}, {"year": 2001, "month": 11, "date": 1}, {"year": 2001, "month": 12, "date": 1}]}},
"y": {"field": "v", "type": "quantitative", "scale": {"domain": [0, 126729], "nice": false},
"axis": {"title": null, "values": [0, 20000, 40000, 60000, 80000, 100000, 120000], "format": ",d", "labelFont": "Liberation Serif", "labelFontSize": 8.5, "domain": false, "ticks": false, "grid": false, "labelPadding": 6}},
"color": {"field": "s", "type": "nominal",
"scale": {"domain": ["2016", "2017", "2018", "2019", "2020", "2021"], "range": ["#C55A11", "#5B9BD5", "#E6908C", "#A9D18E", "#9E86C8", "#FF0000"]},
"legend": {"title": null, "orient": "none", "direction": "horizontal", "legendX": 35, "legendY": 138, "columns": 3, "symbolType": "M-2.78,0H2.78", "symbolSize": 81, "symbolStrokeWidth": 3, "symbolOffset": 8, "labelOffset": 11, "labelFont": "Liberation Sans", "labelFontSize": 8.5, "columnPadding": 0, "rowPadding": 4}}
}
},
{"width": 55, "height": 1, "data": {"values": []}, "mark": "point"},
{
"width": 240, "height": 111,
"data": {"values": [
{"s":"2014","c":"09合约","v":0},{"s":"2014","c":"11合约","v":0},
{"s":"2015","c":"05合约","v":6000},{"s":"2015","c":"07合约","v":400},{"s":"2015","c":"09合约","v":36200},{"s":"2015","c":"11合约","v":0},
{"s":"2016","c":"01合约","v":2300},{"s":"2016","c":"03合约","v":400},{"s":"2016","c":"05合约","v":32000},{"s":"2016","c":"07合约","v":0},{"s":"2016","c":"09合约","v":1500},
{"s":"2017","c":"01合约","v":8300},{"s":"2017","c":"03合约","v":2650},{"s":"2017","c":"05合约","v":45400},{"s":"2017","c":"07合约","v":400},{"s":"2017","c":"09合约","v":10600},{"s":"2017","c":"11合约","v":4200},
{"s":"2018","c":"01合约","v":16100},{"s":"2018","c":"03合约","v":5100},{"s":"2018","c":"05合约","v":1500},{"s":"2018","c":"07合约","v":13000},{"s":"2018","c":"09合约","v":33500},{"s":"2018","c":"11合约","v":22900},
{"s":"2019","c":"01合约","v":21000},{"s":"2019","c":"03合约","v":3600},{"s":"2019","c":"05合约","v":55800},{"s":"2019","c":"07合约","v":31400},{"s":"2019","c":"09合约","v":30900},{"s":"2019","c":"11合约","v":9500},
{"s":"2020","c":"01合约","v":6000},{"s":"2020","c":"03合约","v":8500},{"s":"2020","c":"05合约","v":56800},{"s":"2020","c":"07合约","v":10800},{"s":"2020","c":"09合约","v":12300},{"s":"2020","c":"11合约","v":35400},
{"s":"2021","c":"01合约","v":45600},{"s":"2021","c":"03合约","v":34800},{"s":"2021","c":"05合约","v":15000},{"s":"2021","c":"07合约","v":4200}
]},
"mark": {"type": "line", "strokeWidth": 2.2},
"encoding": {
"x": {"field": "c", "type": "ordinal",
"scale": {"type": "point", "domain": ["01合约", "03合约", "05合约", "07合约", "09合约", "11合约"], "padding": 0.5},
"axis": {"title": null, "labelAngle": 0, "labelFont": "Noto Sans CJK SC", "labelFontSize": 8.5, "ticks": false, "domainColor": "#D9D9D9", "labelPadding": 5}},
"y": {"field": "v", "type": "quantitative", "scale": {"domain": [0, 63429], "nice": false},
"axis": {"title": null, "values": [0, 10000, 20000, 30000, 40000, 50000, 60000], "format": "d", "domain": false, "ticks": false, "grid": false, "labelFontSize": 8, "labelPadding": 5}},
"color": {"field": "s", "type": "nominal",
"scale": {"domain": ["2014", "2015", "2016", "2017", "2018", "2019", "2020", "2021"], "range": ["#4F81BD", "#C0504D", "#9BBB59", "#8064A2", "#4BACC6", "#F79646", "#1F3864", "#FF0000"]},
"legend": {"title": null, "orient": "none", "direction": "horizontal", "legendX": 20, "legendY": 138, "columns": 4, "symbolType": "M-2.78,0H2.78", "symbolSize": 81, "symbolStrokeWidth": 3, "symbolOffset": 8, "labelOffset": 11, "labelFont": "Liberation Sans", "labelFontSize": 8.5, "columnPadding": 0, "rowPadding": 4}}
}
}
], "spacing": 0, "bounds": "flush", "resolve": {"scale": {"color": "independent"}}},

{"width": 588, "height": 2, "view": {"fill": "#E46C0A", "stroke": null}, "data": {"values": []}, "mark": "point",
"title": {"text": "图 12：玉米淀粉仓单及交割量", "orient": "bottom", "anchor": "start", "offset": 15, "font": "Noto Sans CJK SC", "fontSize": 11.5, "fontWeight": "bold", "color": "#E46C0A"}}
],
"config": {
"view": {"stroke": null},
"font": "Noto Sans CJK SC",
"axis": {"labelColor": "#595959", "labelFont": "Liberation Sans"},
"legend": {"labelColor": "#595959", "labelFont": "Noto Sans CJK SC"},
"line": {"strokeCap": "butt"}
}
}
